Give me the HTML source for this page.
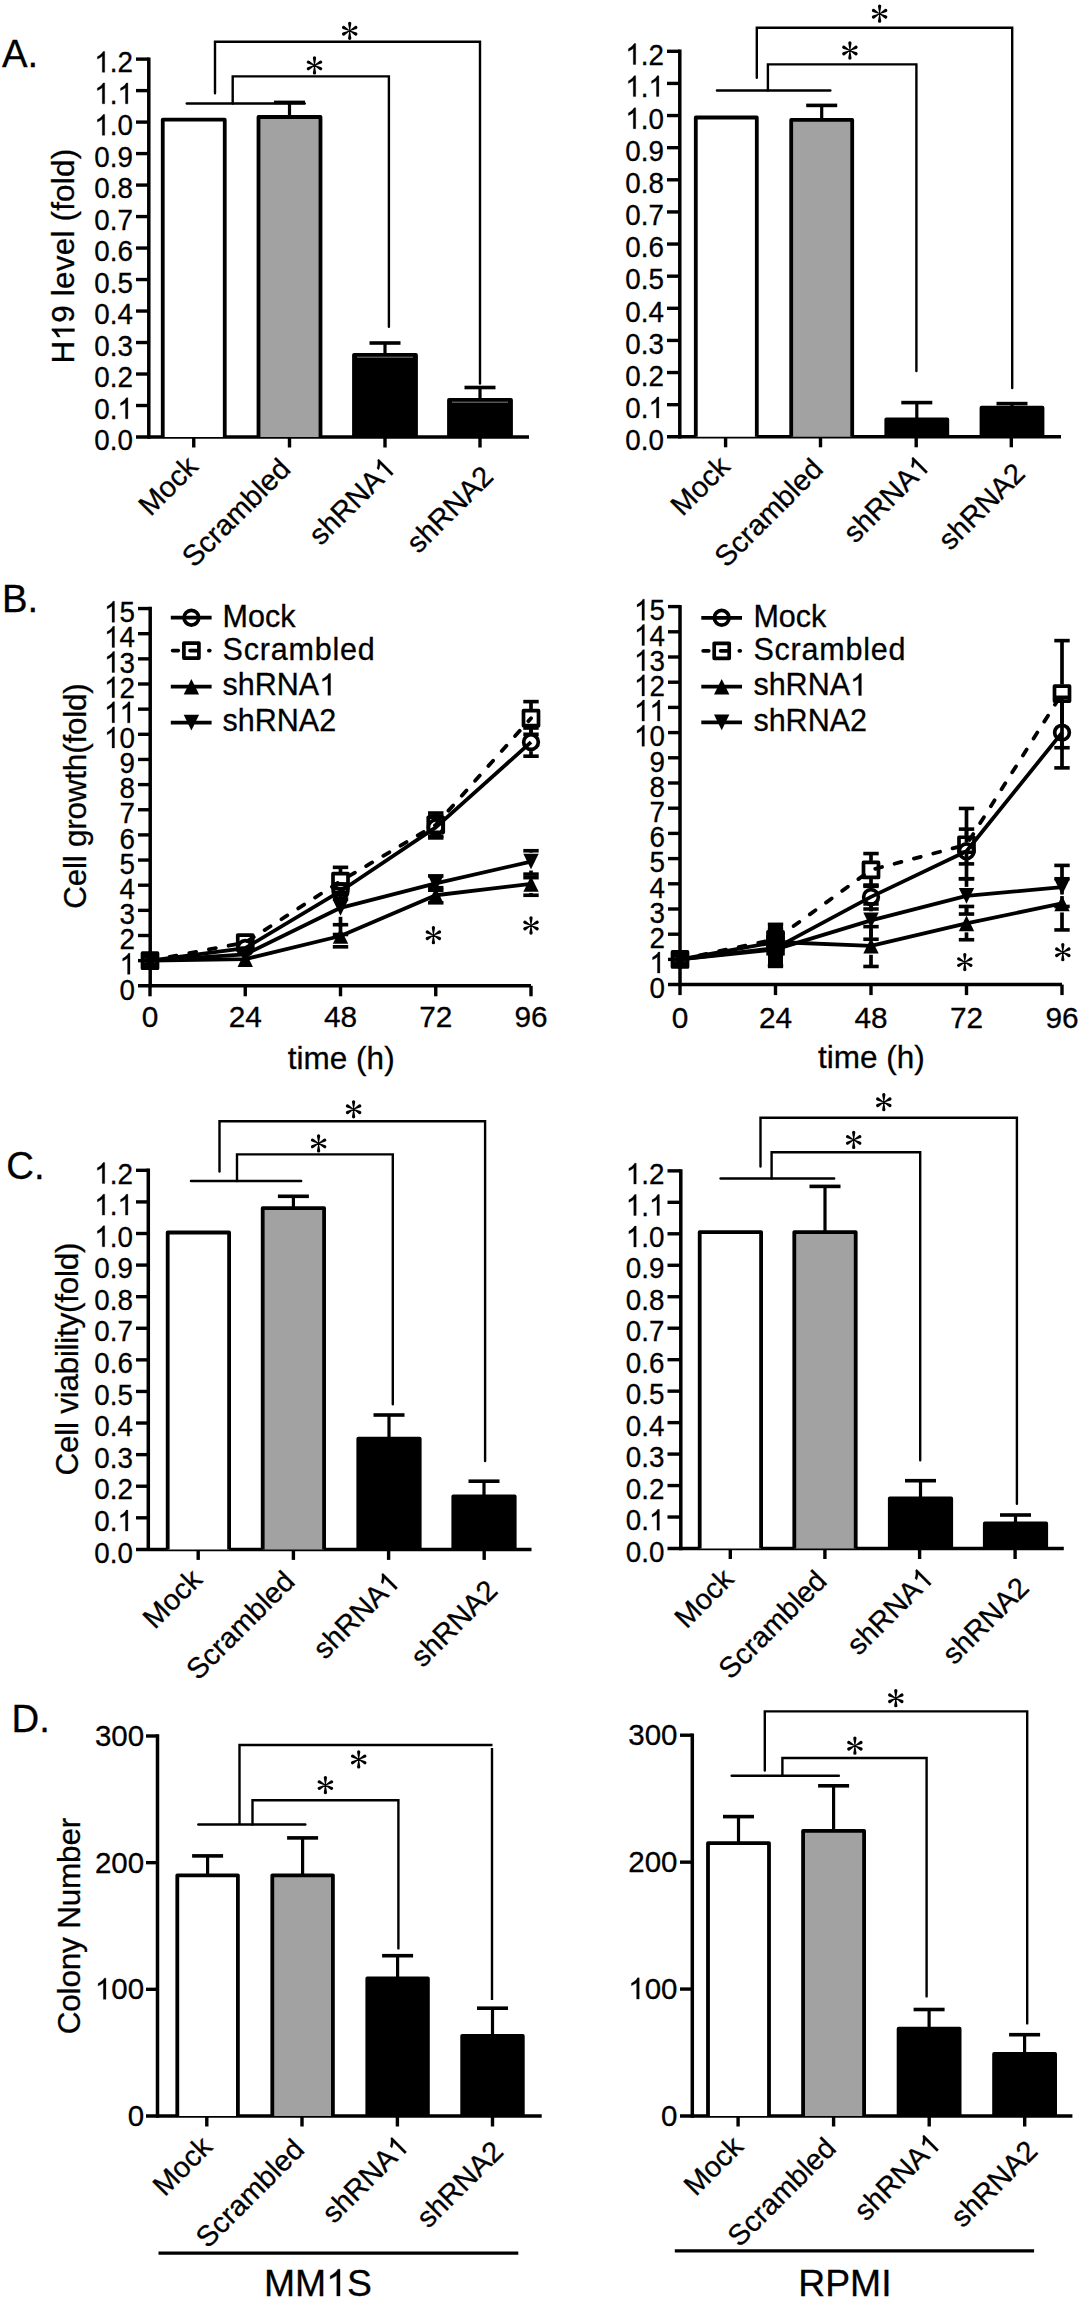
<!DOCTYPE html>
<html><head><meta charset="utf-8"><style>html,body{margin:0;padding:0;background:#fff;}svg{display:block;font-family:"Liberation Sans",sans-serif;}text{stroke:#000;stroke-width:0.3px;}.o{fill:none;stroke:none;}</style></head><body>
<svg width="1078" height="2300" viewBox="0 0 1078 2300" font-family="Liberation Sans" fill="#000">
<rect width="1078" height="2300" fill="#fff"/>
<text x="2" y="66.7" font-size="38.3" text-anchor="start" >A.</text>
<text x="2" y="611.7" font-size="38.3" text-anchor="start" >B.</text>
<text x="6.3" y="1179" font-size="38.3" text-anchor="start" >C.</text>
<text x="11.6" y="1731.6" font-size="38.3" text-anchor="start" >D.</text>
<line x1="148.8" y1="57.4" x2="148.8" y2="438.7" stroke="#000" stroke-width="3.5" stroke-linecap="butt" />
<line x1="136" y1="437" x2="529" y2="437" stroke="#000" stroke-width="3.5" stroke-linecap="butt" />
<text transform="translate(133 450.2) scale(0.955 1)" font-size="29.1" text-anchor="end">0.0</text>
<line x1="136" y1="405.51" x2="148.8" y2="405.51" stroke="#000" stroke-width="3.4" stroke-linecap="butt" />
<text transform="translate(133 418.71) scale(0.955 1)" font-size="29.1" text-anchor="end">0.<tspan class="o">1</tspan></text>
<line x1="136" y1="374.02" x2="148.8" y2="374.02" stroke="#000" stroke-width="3.4" stroke-linecap="butt" />
<text transform="translate(133 387.22) scale(0.955 1)" font-size="29.1" text-anchor="end">0.2</text>
<line x1="136" y1="342.53" x2="148.8" y2="342.53" stroke="#000" stroke-width="3.4" stroke-linecap="butt" />
<text transform="translate(133 355.73) scale(0.955 1)" font-size="29.1" text-anchor="end">0.3</text>
<line x1="136" y1="311.04" x2="148.8" y2="311.04" stroke="#000" stroke-width="3.4" stroke-linecap="butt" />
<text transform="translate(133 324.24) scale(0.955 1)" font-size="29.1" text-anchor="end">0.4</text>
<line x1="136" y1="279.55" x2="148.8" y2="279.55" stroke="#000" stroke-width="3.4" stroke-linecap="butt" />
<text transform="translate(133 292.75) scale(0.955 1)" font-size="29.1" text-anchor="end">0.5</text>
<line x1="136" y1="248.06" x2="148.8" y2="248.06" stroke="#000" stroke-width="3.4" stroke-linecap="butt" />
<text transform="translate(133 261.26) scale(0.955 1)" font-size="29.1" text-anchor="end">0.6</text>
<line x1="136" y1="216.57" x2="148.8" y2="216.57" stroke="#000" stroke-width="3.4" stroke-linecap="butt" />
<text transform="translate(133 229.77) scale(0.955 1)" font-size="29.1" text-anchor="end">0.7</text>
<line x1="136" y1="185.08" x2="148.8" y2="185.08" stroke="#000" stroke-width="3.4" stroke-linecap="butt" />
<text transform="translate(133 198.28) scale(0.955 1)" font-size="29.1" text-anchor="end">0.8</text>
<line x1="136" y1="153.59" x2="148.8" y2="153.59" stroke="#000" stroke-width="3.4" stroke-linecap="butt" />
<text transform="translate(133 166.79) scale(0.955 1)" font-size="29.1" text-anchor="end">0.9</text>
<line x1="136" y1="122.1" x2="148.8" y2="122.1" stroke="#000" stroke-width="3.4" stroke-linecap="butt" />
<text transform="translate(133 135.3) scale(0.955 1)" font-size="29.1" text-anchor="end"><tspan class="o">1</tspan>.0</text>
<line x1="136" y1="90.61" x2="148.8" y2="90.61" stroke="#000" stroke-width="3.4" stroke-linecap="butt" />
<text transform="translate(133 103.81) scale(0.955 1)" font-size="29.1" text-anchor="end"><tspan class="o">1</tspan>.<tspan class="o">1</tspan></text>
<line x1="136" y1="59.12" x2="148.8" y2="59.12" stroke="#000" stroke-width="3.4" stroke-linecap="butt" />
<text transform="translate(133 72.32) scale(0.955 1)" font-size="29.1" text-anchor="end"><tspan class="o">1</tspan>.2</text>
<line x1="193.75" y1="437" x2="193.75" y2="447.5" stroke="#000" stroke-width="3.4" stroke-linecap="butt" />
<line x1="289.5" y1="437" x2="289.5" y2="447.5" stroke="#000" stroke-width="3.4" stroke-linecap="butt" />
<line x1="385" y1="437" x2="385" y2="447.5" stroke="#000" stroke-width="3.4" stroke-linecap="butt" />
<line x1="480" y1="437" x2="480" y2="447.5" stroke="#000" stroke-width="3.4" stroke-linecap="butt" />
<path d="M162.75,437 L162.75,119.7 L224.75,119.7 L224.75,437" fill="#fff" stroke="#000" stroke-width="3.8" stroke-linejoin="round"/>
<path d="M258.5,437 L258.5,117 L320.5,117 L320.5,437" fill="#a2a2a2" stroke="#000" stroke-width="3.8" stroke-linejoin="round"/>
<path d="M354,437 L354,355 L416,355 L416,437" fill="#000" stroke="#000" stroke-width="3.8" stroke-linejoin="round"/>
<line x1="357" y1="357.2" x2="413" y2="357.2" stroke="#8a8a8a" stroke-width="0.9"/>
<path d="M449,437 L449,400 L511,400 L511,437" fill="#000" stroke="#000" stroke-width="3.8" stroke-linejoin="round"/>
<line x1="452" y1="402.2" x2="508" y2="402.2" stroke="#8a8a8a" stroke-width="0.9"/>
<line x1="289.5" y1="117" x2="289.5" y2="102.4" stroke="#000" stroke-width="3.2" stroke-linecap="butt" />
<line x1="274" y1="102.4" x2="305" y2="102.4" stroke="#000" stroke-width="3.6" stroke-linecap="butt" />
<line x1="385" y1="355" x2="385" y2="343" stroke="#000" stroke-width="3.2" stroke-linecap="butt" />
<line x1="369.5" y1="343" x2="400.5" y2="343" stroke="#000" stroke-width="3.6" stroke-linecap="butt" />
<line x1="480" y1="400" x2="480" y2="387.5" stroke="#000" stroke-width="3.2" stroke-linecap="butt" />
<line x1="464.5" y1="387.5" x2="495.5" y2="387.5" stroke="#000" stroke-width="3.6" stroke-linecap="butt" />
<line x1="186.8" y1="103.5" x2="304.7" y2="103.5" stroke="#000" stroke-width="2.5" stroke-linecap="round" />
<polyline points="232.7,103.5 232.7,76.4 388.9,76.4 388.9,326.7" fill="none" stroke="#000" stroke-width="2.4" stroke-linecap="round" stroke-linejoin="miter"/>
<polyline points="215,93.3 215,41.8 480,41.8 480,383.5" fill="none" stroke="#000" stroke-width="2.4" stroke-linecap="round" stroke-linejoin="miter"/>
<path d="M350.05,30.8 L351.35,23.3 A1.65,1.65 0 1 0 348.05,23.3 L349.35,30.8 Z M349.86,31.11 L356.57,29.02 A1.65,1.65 0 1 0 355.02,26.1 L349.54,30.49 Z M349.54,31.11 L355.02,35.5 A1.65,1.65 0 1 0 356.57,32.58 L349.86,30.49 Z M349.35,30.8 L348.05,38.3 A1.65,1.65 0 1 0 351.35,38.3 L350.05,30.8 Z M349.54,30.49 L342.83,32.58 A1.65,1.65 0 1 0 344.38,35.5 L349.86,31.11 Z M349.86,30.49 L344.38,26.1 A1.65,1.65 0 1 0 342.83,29.02 L349.54,31.11 Z" fill="#000"/>
<path d="M314.85,65.4 L316.15,57.9 A1.65,1.65 0 1 0 312.85,57.9 L314.15,65.4 Z M314.66,65.71 L321.37,63.62 A1.65,1.65 0 1 0 319.82,60.7 L314.34,65.09 Z M314.34,65.71 L319.82,70.1 A1.65,1.65 0 1 0 321.37,67.18 L314.66,65.09 Z M314.15,65.4 L312.85,72.9 A1.65,1.65 0 1 0 316.15,72.9 L314.85,65.4 Z M314.34,65.09 L307.63,67.18 A1.65,1.65 0 1 0 309.18,70.1 L314.66,65.71 Z M314.66,65.09 L309.18,60.7 A1.65,1.65 0 1 0 307.63,63.62 L314.34,65.71 Z" fill="#000"/>
<text x="199.5" y="468.3" font-size="29.0" text-anchor="end" transform="rotate(-45 199.5 468.3)" >Mock</text>
<text x="292.1" y="470.6" font-size="29.0" text-anchor="end" transform="rotate(-45 292.1 470.6)" >Scrambled</text>
<text x="397.2" y="470" font-size="29.0" text-anchor="end" transform="rotate(-45 397.2 470)" >shRNA<tspan class="o">1</tspan></text>
<text x="494.8" y="478.1" font-size="29.0" text-anchor="end" transform="rotate(-45 494.8 478.1)" >shRNA2</text>
<text x="74.5" y="256.1" font-size="31.5" text-anchor="middle" transform="rotate(-90 74.5 256.1)" textLength="214.6" lengthAdjust="spacing" >H<tspan class="o">1</tspan>9 level (fold)</text>
<line x1="679.8" y1="49.6" x2="679.8" y2="438.5" stroke="#000" stroke-width="3.5" stroke-linecap="butt" />
<line x1="667" y1="436.8" x2="1061" y2="436.8" stroke="#000" stroke-width="3.5" stroke-linecap="butt" />
<text transform="translate(664 450) scale(0.955 1)" font-size="29.1" text-anchor="end">0.0</text>
<line x1="667" y1="404.68" x2="679.8" y2="404.68" stroke="#000" stroke-width="3.4" stroke-linecap="butt" />
<text transform="translate(664 417.88) scale(0.955 1)" font-size="29.1" text-anchor="end">0.<tspan class="o">1</tspan></text>
<line x1="667" y1="372.55" x2="679.8" y2="372.55" stroke="#000" stroke-width="3.4" stroke-linecap="butt" />
<text transform="translate(664 385.75) scale(0.955 1)" font-size="29.1" text-anchor="end">0.2</text>
<line x1="667" y1="340.43" x2="679.8" y2="340.43" stroke="#000" stroke-width="3.4" stroke-linecap="butt" />
<text transform="translate(664 353.62) scale(0.955 1)" font-size="29.1" text-anchor="end">0.3</text>
<line x1="667" y1="308.3" x2="679.8" y2="308.3" stroke="#000" stroke-width="3.4" stroke-linecap="butt" />
<text transform="translate(664 321.5) scale(0.955 1)" font-size="29.1" text-anchor="end">0.4</text>
<line x1="667" y1="276.18" x2="679.8" y2="276.18" stroke="#000" stroke-width="3.4" stroke-linecap="butt" />
<text transform="translate(664 289.38) scale(0.955 1)" font-size="29.1" text-anchor="end">0.5</text>
<line x1="667" y1="244.05" x2="679.8" y2="244.05" stroke="#000" stroke-width="3.4" stroke-linecap="butt" />
<text transform="translate(664 257.25) scale(0.955 1)" font-size="29.1" text-anchor="end">0.6</text>
<line x1="667" y1="211.93" x2="679.8" y2="211.93" stroke="#000" stroke-width="3.4" stroke-linecap="butt" />
<text transform="translate(664 225.13) scale(0.955 1)" font-size="29.1" text-anchor="end">0.7</text>
<line x1="667" y1="179.8" x2="679.8" y2="179.8" stroke="#000" stroke-width="3.4" stroke-linecap="butt" />
<text transform="translate(664 193) scale(0.955 1)" font-size="29.1" text-anchor="end">0.8</text>
<line x1="667" y1="147.68" x2="679.8" y2="147.68" stroke="#000" stroke-width="3.4" stroke-linecap="butt" />
<text transform="translate(664 160.88) scale(0.955 1)" font-size="29.1" text-anchor="end">0.9</text>
<line x1="667" y1="115.55" x2="679.8" y2="115.55" stroke="#000" stroke-width="3.4" stroke-linecap="butt" />
<text transform="translate(664 128.75) scale(0.955 1)" font-size="29.1" text-anchor="end"><tspan class="o">1</tspan>.0</text>
<line x1="667" y1="83.42" x2="679.8" y2="83.42" stroke="#000" stroke-width="3.4" stroke-linecap="butt" />
<text transform="translate(664 96.62) scale(0.955 1)" font-size="29.1" text-anchor="end"><tspan class="o">1</tspan>.<tspan class="o">1</tspan></text>
<line x1="667" y1="51.3" x2="679.8" y2="51.3" stroke="#000" stroke-width="3.4" stroke-linecap="butt" />
<text transform="translate(664 64.5) scale(0.955 1)" font-size="29.1" text-anchor="end"><tspan class="o">1</tspan>.2</text>
<line x1="725.6" y1="436.8" x2="725.6" y2="447.3" stroke="#000" stroke-width="3.4" stroke-linecap="butt" />
<line x1="820.5" y1="436.8" x2="820.5" y2="447.3" stroke="#000" stroke-width="3.4" stroke-linecap="butt" />
<line x1="916.2" y1="436.8" x2="916.2" y2="447.3" stroke="#000" stroke-width="3.4" stroke-linecap="butt" />
<line x1="1011.3" y1="436.8" x2="1011.3" y2="447.3" stroke="#000" stroke-width="3.4" stroke-linecap="butt" />
<path d="M695.8,436.8 L695.8,117.5 L756.8,117.5 L756.8,436.8" fill="#fff" stroke="#000" stroke-width="3.8" stroke-linejoin="round"/>
<path d="M791.2,436.8 L791.2,119.9 L852.2,119.9 L852.2,436.8" fill="#a2a2a2" stroke="#000" stroke-width="3.8" stroke-linejoin="round"/>
<path d="M886.3,436.8 L886.3,419.3 L947.3,419.3 L947.3,436.8" fill="#000" stroke="#000" stroke-width="3.8" stroke-linejoin="round"/>
<path d="M981.5,436.8 L981.5,407.7 L1042.5,407.7 L1042.5,436.8" fill="#000" stroke="#000" stroke-width="3.8" stroke-linejoin="round"/>
<line x1="821.7" y1="119.9" x2="821.7" y2="105.4" stroke="#000" stroke-width="3.2" stroke-linecap="butt" />
<line x1="806.2" y1="105.4" x2="837.2" y2="105.4" stroke="#000" stroke-width="3.6" stroke-linecap="butt" />
<line x1="916.8" y1="419.3" x2="916.8" y2="402.6" stroke="#000" stroke-width="3.2" stroke-linecap="butt" />
<line x1="901.3" y1="402.6" x2="932.3" y2="402.6" stroke="#000" stroke-width="3.6" stroke-linecap="butt" />
<line x1="1012" y1="407.7" x2="1012" y2="403.6" stroke="#000" stroke-width="3.2" stroke-linecap="butt" />
<line x1="996.5" y1="403.6" x2="1027.5" y2="403.6" stroke="#000" stroke-width="3.6" stroke-linecap="butt" />
<line x1="717" y1="90.4" x2="830.3" y2="90.4" stroke="#000" stroke-width="2.5" stroke-linecap="round" />
<polyline points="767.9,90.4 767.9,64.4 916.4,64.4 916.4,371" fill="none" stroke="#000" stroke-width="2.4" stroke-linecap="round" stroke-linejoin="miter"/>
<polyline points="756.8,77.7 756.8,27.8 1012.2,27.8 1012.2,388" fill="none" stroke="#000" stroke-width="2.4" stroke-linecap="round" stroke-linejoin="miter"/>
<path d="M879.95,13.7 L881.25,6.2 A1.65,1.65 0 1 0 877.95,6.2 L879.25,13.7 Z M879.76,14.01 L886.47,11.92 A1.65,1.65 0 1 0 884.92,9 L879.44,13.39 Z M879.44,14.01 L884.92,18.4 A1.65,1.65 0 1 0 886.47,15.48 L879.76,13.39 Z M879.25,13.7 L877.95,21.2 A1.65,1.65 0 1 0 881.25,21.2 L879.95,13.7 Z M879.44,13.39 L872.73,15.48 A1.65,1.65 0 1 0 874.28,18.4 L879.76,14.01 Z M879.76,13.39 L874.28,9 A1.65,1.65 0 1 0 872.73,11.92 L879.44,14.01 Z" fill="#000"/>
<path d="M850.25,50.5 L851.55,43 A1.65,1.65 0 1 0 848.25,43 L849.55,50.5 Z M850.06,50.81 L856.77,48.72 A1.65,1.65 0 1 0 855.22,45.8 L849.74,50.19 Z M849.74,50.81 L855.22,55.2 A1.65,1.65 0 1 0 856.77,52.28 L850.06,50.19 Z M849.55,50.5 L848.25,58 A1.65,1.65 0 1 0 851.55,58 L850.25,50.5 Z M849.74,50.19 L843.03,52.28 A1.65,1.65 0 1 0 844.58,55.2 L850.06,50.81 Z M850.06,50.19 L844.58,45.8 A1.65,1.65 0 1 0 843.03,48.72 L849.74,50.81 Z" fill="#000"/>
<text x="731.6" y="468.3" font-size="29.0" text-anchor="end" transform="rotate(-45 731.6 468.3)" >Mock</text>
<text x="824.6" y="470.6" font-size="29.0" text-anchor="end" transform="rotate(-45 824.6 470.6)" >Scrambled</text>
<text x="931.5" y="468" font-size="29.0" text-anchor="end" transform="rotate(-45 931.5 468)" >shRNA<tspan class="o">1</tspan></text>
<text x="1026.7" y="475.1" font-size="29.0" text-anchor="end" transform="rotate(-45 1026.7 475.1)" >shRNA2</text>
<line x1="148.3" y1="1168.6" x2="148.3" y2="1551.1" stroke="#000" stroke-width="3.5" stroke-linecap="butt" />
<line x1="136" y1="1549.4" x2="531.5" y2="1549.4" stroke="#000" stroke-width="3.5" stroke-linecap="butt" />
<text transform="translate(133 1562.6) scale(0.955 1)" font-size="29.1" text-anchor="end">0.0</text>
<line x1="136" y1="1517.81" x2="148.3" y2="1517.81" stroke="#000" stroke-width="3.4" stroke-linecap="butt" />
<text transform="translate(133 1531.01) scale(0.955 1)" font-size="29.1" text-anchor="end">0.<tspan class="o">1</tspan></text>
<line x1="136" y1="1486.22" x2="148.3" y2="1486.22" stroke="#000" stroke-width="3.4" stroke-linecap="butt" />
<text transform="translate(133 1499.42) scale(0.955 1)" font-size="29.1" text-anchor="end">0.2</text>
<line x1="136" y1="1454.63" x2="148.3" y2="1454.63" stroke="#000" stroke-width="3.4" stroke-linecap="butt" />
<text transform="translate(133 1467.83) scale(0.955 1)" font-size="29.1" text-anchor="end">0.3</text>
<line x1="136" y1="1423.04" x2="148.3" y2="1423.04" stroke="#000" stroke-width="3.4" stroke-linecap="butt" />
<text transform="translate(133 1436.24) scale(0.955 1)" font-size="29.1" text-anchor="end">0.4</text>
<line x1="136" y1="1391.45" x2="148.3" y2="1391.45" stroke="#000" stroke-width="3.4" stroke-linecap="butt" />
<text transform="translate(133 1404.65) scale(0.955 1)" font-size="29.1" text-anchor="end">0.5</text>
<line x1="136" y1="1359.86" x2="148.3" y2="1359.86" stroke="#000" stroke-width="3.4" stroke-linecap="butt" />
<text transform="translate(133 1373.06) scale(0.955 1)" font-size="29.1" text-anchor="end">0.6</text>
<line x1="136" y1="1328.27" x2="148.3" y2="1328.27" stroke="#000" stroke-width="3.4" stroke-linecap="butt" />
<text transform="translate(133 1341.47) scale(0.955 1)" font-size="29.1" text-anchor="end">0.7</text>
<line x1="136" y1="1296.68" x2="148.3" y2="1296.68" stroke="#000" stroke-width="3.4" stroke-linecap="butt" />
<text transform="translate(133 1309.88) scale(0.955 1)" font-size="29.1" text-anchor="end">0.8</text>
<line x1="136" y1="1265.09" x2="148.3" y2="1265.09" stroke="#000" stroke-width="3.4" stroke-linecap="butt" />
<text transform="translate(133 1278.29) scale(0.955 1)" font-size="29.1" text-anchor="end">0.9</text>
<line x1="136" y1="1233.5" x2="148.3" y2="1233.5" stroke="#000" stroke-width="3.4" stroke-linecap="butt" />
<text transform="translate(133 1246.7) scale(0.955 1)" font-size="29.1" text-anchor="end"><tspan class="o">1</tspan>.0</text>
<line x1="136" y1="1201.91" x2="148.3" y2="1201.91" stroke="#000" stroke-width="3.4" stroke-linecap="butt" />
<text transform="translate(133 1215.11) scale(0.955 1)" font-size="29.1" text-anchor="end"><tspan class="o">1</tspan>.<tspan class="o">1</tspan></text>
<line x1="136" y1="1170.32" x2="148.3" y2="1170.32" stroke="#000" stroke-width="3.4" stroke-linecap="butt" />
<text transform="translate(133 1183.52) scale(0.955 1)" font-size="29.1" text-anchor="end"><tspan class="o">1</tspan>.2</text>
<line x1="198.2" y1="1549.4" x2="198.2" y2="1559.9" stroke="#000" stroke-width="3.4" stroke-linecap="butt" />
<line x1="293.4" y1="1549.4" x2="293.4" y2="1559.9" stroke="#000" stroke-width="3.4" stroke-linecap="butt" />
<line x1="388.6" y1="1549.4" x2="388.6" y2="1559.9" stroke="#000" stroke-width="3.4" stroke-linecap="butt" />
<line x1="484.2" y1="1549.4" x2="484.2" y2="1559.9" stroke="#000" stroke-width="3.4" stroke-linecap="butt" />
<path d="M167.7,1549.4 L167.7,1232.5 L229.1,1232.5 L229.1,1549.4" fill="#fff" stroke="#000" stroke-width="3.8" stroke-linejoin="round"/>
<path d="M262.7,1549.4 L262.7,1208.1 L324.1,1208.1 L324.1,1549.4" fill="#a2a2a2" stroke="#000" stroke-width="3.8" stroke-linejoin="round"/>
<path d="M358.3,1549.4 L358.3,1438.7 L419.7,1438.7 L419.7,1549.4" fill="#000" stroke="#000" stroke-width="3.8" stroke-linejoin="round"/>
<path d="M453.3,1549.4 L453.3,1496.3 L514.7,1496.3 L514.7,1549.4" fill="#000" stroke="#000" stroke-width="3.8" stroke-linejoin="round"/>
<line x1="293.4" y1="1208.1" x2="293.4" y2="1196.3" stroke="#000" stroke-width="3.2" stroke-linecap="butt" />
<line x1="277.9" y1="1196.3" x2="308.9" y2="1196.3" stroke="#000" stroke-width="3.6" stroke-linecap="butt" />
<line x1="389" y1="1438.7" x2="389" y2="1415" stroke="#000" stroke-width="3.2" stroke-linecap="butt" />
<line x1="373.5" y1="1415" x2="404.5" y2="1415" stroke="#000" stroke-width="3.6" stroke-linecap="butt" />
<line x1="484" y1="1496.3" x2="484" y2="1481.2" stroke="#000" stroke-width="3.2" stroke-linecap="butt" />
<line x1="468.5" y1="1481.2" x2="499.5" y2="1481.2" stroke="#000" stroke-width="3.6" stroke-linecap="butt" />
<line x1="191" y1="1181.1" x2="301.1" y2="1181.1" stroke="#000" stroke-width="2.5" stroke-linecap="round" />
<polyline points="237,1181.1 237,1154.4 392.8,1154.4 392.8,1404.3" fill="none" stroke="#000" stroke-width="2.4" stroke-linecap="round" stroke-linejoin="miter"/>
<polyline points="219.5,1171.6 219.5,1121.2 485.1,1121.2 485.1,1461.1" fill="none" stroke="#000" stroke-width="2.4" stroke-linecap="round" stroke-linejoin="miter"/>
<path d="M353.95,1109.3 L355.25,1101.8 A1.65,1.65 0 1 0 351.95,1101.8 L353.25,1109.3 Z M353.76,1109.61 L360.47,1107.52 A1.65,1.65 0 1 0 358.92,1104.6 L353.44,1108.99 Z M353.44,1109.61 L358.92,1114 A1.65,1.65 0 1 0 360.47,1111.08 L353.76,1108.99 Z M353.25,1109.3 L351.95,1116.8 A1.65,1.65 0 1 0 355.25,1116.8 L353.95,1109.3 Z M353.44,1108.99 L346.73,1111.08 A1.65,1.65 0 1 0 348.28,1114 L353.76,1109.61 Z M353.76,1108.99 L348.28,1104.6 A1.65,1.65 0 1 0 346.73,1107.52 L353.44,1109.61 Z" fill="#000"/>
<path d="M318.95,1143.4 L320.25,1135.9 A1.65,1.65 0 1 0 316.95,1135.9 L318.25,1143.4 Z M318.76,1143.71 L325.47,1141.62 A1.65,1.65 0 1 0 323.92,1138.7 L318.44,1143.09 Z M318.44,1143.71 L323.92,1148.1 A1.65,1.65 0 1 0 325.47,1145.18 L318.76,1143.09 Z M318.25,1143.4 L316.95,1150.9 A1.65,1.65 0 1 0 320.25,1150.9 L318.95,1143.4 Z M318.44,1143.09 L311.73,1145.18 A1.65,1.65 0 1 0 313.28,1148.1 L318.76,1143.71 Z M318.76,1143.09 L313.28,1138.7 A1.65,1.65 0 1 0 311.73,1141.62 L318.44,1143.71 Z" fill="#000"/>
<text x="203.8" y="1581.2" font-size="29.0" text-anchor="end" transform="rotate(-45 203.8 1581.2)" >Mock</text>
<text x="296.4" y="1583.2" font-size="29.0" text-anchor="end" transform="rotate(-45 296.4 1583.2)" >Scrambled</text>
<text x="401.4" y="1584.1" font-size="29.0" text-anchor="end" transform="rotate(-45 401.4 1584.1)" >shRNA<tspan class="o">1</tspan></text>
<text x="499.1" y="1592.2" font-size="29.0" text-anchor="end" transform="rotate(-45 499.1 1592.2)" >shRNA2</text>
<text x="78" y="1359" font-size="31.5" text-anchor="middle" transform="rotate(-90 78 1359)" textLength="232.9" lengthAdjust="spacing" >Cell viability(fold)</text>
<line x1="680.8" y1="1169.2" x2="680.8" y2="1550.2" stroke="#000" stroke-width="3.5" stroke-linecap="butt" />
<line x1="667.5" y1="1548.5" x2="1063.8" y2="1548.5" stroke="#000" stroke-width="3.5" stroke-linecap="butt" />
<text transform="translate(664.5 1561.7) scale(0.955 1)" font-size="29.1" text-anchor="end">0.0</text>
<line x1="667.5" y1="1517.03" x2="680.8" y2="1517.03" stroke="#000" stroke-width="3.4" stroke-linecap="butt" />
<text transform="translate(664.5 1530.23) scale(0.955 1)" font-size="29.1" text-anchor="end">0.<tspan class="o">1</tspan></text>
<line x1="667.5" y1="1485.56" x2="680.8" y2="1485.56" stroke="#000" stroke-width="3.4" stroke-linecap="butt" />
<text transform="translate(664.5 1498.76) scale(0.955 1)" font-size="29.1" text-anchor="end">0.2</text>
<line x1="667.5" y1="1454.09" x2="680.8" y2="1454.09" stroke="#000" stroke-width="3.4" stroke-linecap="butt" />
<text transform="translate(664.5 1467.29) scale(0.955 1)" font-size="29.1" text-anchor="end">0.3</text>
<line x1="667.5" y1="1422.62" x2="680.8" y2="1422.62" stroke="#000" stroke-width="3.4" stroke-linecap="butt" />
<text transform="translate(664.5 1435.82) scale(0.955 1)" font-size="29.1" text-anchor="end">0.4</text>
<line x1="667.5" y1="1391.15" x2="680.8" y2="1391.15" stroke="#000" stroke-width="3.4" stroke-linecap="butt" />
<text transform="translate(664.5 1404.35) scale(0.955 1)" font-size="29.1" text-anchor="end">0.5</text>
<line x1="667.5" y1="1359.68" x2="680.8" y2="1359.68" stroke="#000" stroke-width="3.4" stroke-linecap="butt" />
<text transform="translate(664.5 1372.88) scale(0.955 1)" font-size="29.1" text-anchor="end">0.6</text>
<line x1="667.5" y1="1328.21" x2="680.8" y2="1328.21" stroke="#000" stroke-width="3.4" stroke-linecap="butt" />
<text transform="translate(664.5 1341.41) scale(0.955 1)" font-size="29.1" text-anchor="end">0.7</text>
<line x1="667.5" y1="1296.74" x2="680.8" y2="1296.74" stroke="#000" stroke-width="3.4" stroke-linecap="butt" />
<text transform="translate(664.5 1309.94) scale(0.955 1)" font-size="29.1" text-anchor="end">0.8</text>
<line x1="667.5" y1="1265.27" x2="680.8" y2="1265.27" stroke="#000" stroke-width="3.4" stroke-linecap="butt" />
<text transform="translate(664.5 1278.47) scale(0.955 1)" font-size="29.1" text-anchor="end">0.9</text>
<line x1="667.5" y1="1233.8" x2="680.8" y2="1233.8" stroke="#000" stroke-width="3.4" stroke-linecap="butt" />
<text transform="translate(664.5 1247) scale(0.955 1)" font-size="29.1" text-anchor="end"><tspan class="o">1</tspan>.0</text>
<line x1="667.5" y1="1202.33" x2="680.8" y2="1202.33" stroke="#000" stroke-width="3.4" stroke-linecap="butt" />
<text transform="translate(664.5 1215.53) scale(0.955 1)" font-size="29.1" text-anchor="end"><tspan class="o">1</tspan>.<tspan class="o">1</tspan></text>
<line x1="667.5" y1="1170.86" x2="680.8" y2="1170.86" stroke="#000" stroke-width="3.4" stroke-linecap="butt" />
<text transform="translate(664.5 1184.06) scale(0.955 1)" font-size="29.1" text-anchor="end"><tspan class="o">1</tspan>.2</text>
<line x1="730.3" y1="1548.5" x2="730.3" y2="1559" stroke="#000" stroke-width="3.4" stroke-linecap="butt" />
<line x1="824.9" y1="1548.5" x2="824.9" y2="1559" stroke="#000" stroke-width="3.4" stroke-linecap="butt" />
<line x1="919.6" y1="1548.5" x2="919.6" y2="1559" stroke="#000" stroke-width="3.4" stroke-linecap="butt" />
<line x1="1015.1" y1="1548.5" x2="1015.1" y2="1559" stroke="#000" stroke-width="3.4" stroke-linecap="butt" />
<path d="M699.7,1548.5 L699.7,1232.1 L761.1,1232.1 L761.1,1548.5" fill="#fff" stroke="#000" stroke-width="3.8" stroke-linejoin="round"/>
<path d="M794.3,1548.5 L794.3,1232.1 L855.7,1232.1 L855.7,1548.5" fill="#a2a2a2" stroke="#000" stroke-width="3.8" stroke-linejoin="round"/>
<path d="M889.8,1548.5 L889.8,1498.3 L951.2,1498.3 L951.2,1548.5" fill="#000" stroke="#000" stroke-width="3.8" stroke-linejoin="round"/>
<path d="M984.8,1548.5 L984.8,1523.5 L1046.2,1523.5 L1046.2,1548.5" fill="#000" stroke="#000" stroke-width="3.8" stroke-linejoin="round"/>
<line x1="825" y1="1232.1" x2="825" y2="1186.4" stroke="#000" stroke-width="3.2" stroke-linecap="butt" />
<line x1="809.5" y1="1186.4" x2="840.5" y2="1186.4" stroke="#000" stroke-width="3.6" stroke-linecap="butt" />
<line x1="920.5" y1="1498.3" x2="920.5" y2="1480.7" stroke="#000" stroke-width="3.2" stroke-linecap="butt" />
<line x1="905" y1="1480.7" x2="936" y2="1480.7" stroke="#000" stroke-width="3.6" stroke-linecap="butt" />
<line x1="1015.5" y1="1523.5" x2="1015.5" y2="1515" stroke="#000" stroke-width="3.2" stroke-linecap="butt" />
<line x1="1000" y1="1515" x2="1031" y2="1515" stroke="#000" stroke-width="3.6" stroke-linecap="butt" />
<line x1="720.6" y1="1178.4" x2="834.1" y2="1178.4" stroke="#000" stroke-width="2.5" stroke-linecap="round" />
<polyline points="771.6,1178.4 771.6,1152.3 920.2,1152.3 920.2,1460.3" fill="none" stroke="#000" stroke-width="2.4" stroke-linecap="round" stroke-linejoin="miter"/>
<polyline points="760.5,1166.5 760.5,1117.7 1016.9,1117.7 1016.9,1503.8" fill="none" stroke="#000" stroke-width="2.4" stroke-linecap="round" stroke-linejoin="miter"/>
<path d="M884.15,1102.2 L885.45,1094.7 A1.65,1.65 0 1 0 882.15,1094.7 L883.45,1102.2 Z M883.96,1102.51 L890.67,1100.42 A1.65,1.65 0 1 0 889.12,1097.5 L883.64,1101.89 Z M883.64,1102.51 L889.12,1106.9 A1.65,1.65 0 1 0 890.67,1103.98 L883.96,1101.89 Z M883.45,1102.2 L882.15,1109.7 A1.65,1.65 0 1 0 885.45,1109.7 L884.15,1102.2 Z M883.64,1101.89 L876.93,1103.98 A1.65,1.65 0 1 0 878.48,1106.9 L883.96,1102.51 Z M883.96,1101.89 L878.48,1097.5 A1.65,1.65 0 1 0 876.93,1100.42 L883.64,1102.51 Z" fill="#000"/>
<path d="M854.05,1139.9 L855.35,1132.4 A1.65,1.65 0 1 0 852.05,1132.4 L853.35,1139.9 Z M853.86,1140.21 L860.57,1138.12 A1.65,1.65 0 1 0 859.02,1135.2 L853.54,1139.59 Z M853.54,1140.21 L859.02,1144.6 A1.65,1.65 0 1 0 860.57,1141.68 L853.86,1139.59 Z M853.35,1139.9 L852.05,1147.4 A1.65,1.65 0 1 0 855.35,1147.4 L854.05,1139.9 Z M853.54,1139.59 L846.83,1141.68 A1.65,1.65 0 1 0 848.38,1144.6 L853.86,1140.21 Z M853.86,1139.59 L848.38,1135.2 A1.65,1.65 0 1 0 846.83,1138.12 L853.54,1140.21 Z" fill="#000"/>
<text x="735.4" y="1580.7" font-size="29.0" text-anchor="end" transform="rotate(-45 735.4 1580.7)" >Mock</text>
<text x="828.5" y="1582.5" font-size="29.0" text-anchor="end" transform="rotate(-45 828.5 1582.5)" >Scrambled</text>
<text x="935.2" y="1580.2" font-size="29.0" text-anchor="end" transform="rotate(-45 935.2 1580.2)" >shRNA<tspan class="o">1</tspan></text>
<text x="1030.6" y="1589.4" font-size="29.0" text-anchor="end" transform="rotate(-45 1030.6 1589.4)" >shRNA2</text>
<line x1="157.5" y1="1734.3" x2="157.5" y2="2117.7" stroke="#000" stroke-width="3.5" stroke-linecap="butt" />
<line x1="146" y1="2116" x2="541.7" y2="2116" stroke="#000" stroke-width="3.5" stroke-linecap="butt" />
<text transform="translate(144.2 2126) scale(1.0 1)" font-size="29.5" text-anchor="end">0</text>
<line x1="146" y1="1989.33" x2="157.5" y2="1989.33" stroke="#000" stroke-width="3.4" stroke-linecap="butt" />
<text transform="translate(144.2 1999.33) scale(1.0 1)" font-size="29.5" text-anchor="end"><tspan class="o">1</tspan>00</text>
<line x1="146" y1="1862.66" x2="157.5" y2="1862.66" stroke="#000" stroke-width="3.4" stroke-linecap="butt" />
<text transform="translate(144.2 1872.66) scale(1.0 1)" font-size="29.5" text-anchor="end">200</text>
<line x1="146" y1="1735.99" x2="157.5" y2="1735.99" stroke="#000" stroke-width="3.4" stroke-linecap="butt" />
<text transform="translate(144.2 1745.99) scale(1.0 1)" font-size="29.5" text-anchor="end">300</text>
<line x1="206.8" y1="2116" x2="206.8" y2="2126.5" stroke="#000" stroke-width="3.4" stroke-linecap="butt" />
<line x1="302" y1="2116" x2="302" y2="2126.5" stroke="#000" stroke-width="3.4" stroke-linecap="butt" />
<line x1="397.4" y1="2116" x2="397.4" y2="2126.5" stroke="#000" stroke-width="3.4" stroke-linecap="butt" />
<line x1="492.5" y1="2116" x2="492.5" y2="2126.5" stroke="#000" stroke-width="3.4" stroke-linecap="butt" />
<path d="M177.3,2116 L177.3,1875.3 L237.9,1875.3 L237.9,2116" fill="#fff" stroke="#000" stroke-width="3.8" stroke-linejoin="round"/>
<path d="M272.3,2116 L272.3,1875.3 L332.9,1875.3 L332.9,2116" fill="#a2a2a2" stroke="#000" stroke-width="3.8" stroke-linejoin="round"/>
<path d="M367.3,2116 L367.3,1978.4 L427.9,1978.4 L427.9,2116" fill="#000" stroke="#000" stroke-width="3.8" stroke-linejoin="round"/>
<path d="M462.2,2116 L462.2,2035.8 L522.8,2035.8 L522.8,2116" fill="#000" stroke="#000" stroke-width="3.8" stroke-linejoin="round"/>
<line x1="207.6" y1="1875.3" x2="207.6" y2="1855.9" stroke="#000" stroke-width="3.2" stroke-linecap="butt" />
<line x1="192.1" y1="1855.9" x2="223.1" y2="1855.9" stroke="#000" stroke-width="3.6" stroke-linecap="butt" />
<line x1="302.6" y1="1875.3" x2="302.6" y2="1837.9" stroke="#000" stroke-width="3.2" stroke-linecap="butt" />
<line x1="287.1" y1="1837.9" x2="318.1" y2="1837.9" stroke="#000" stroke-width="3.6" stroke-linecap="butt" />
<line x1="397.6" y1="1978.4" x2="397.6" y2="1955.7" stroke="#000" stroke-width="3.2" stroke-linecap="butt" />
<line x1="382.1" y1="1955.7" x2="413.1" y2="1955.7" stroke="#000" stroke-width="3.6" stroke-linecap="butt" />
<line x1="492.5" y1="2035.8" x2="492.5" y2="2008.2" stroke="#000" stroke-width="3.2" stroke-linecap="butt" />
<line x1="477" y1="2008.2" x2="508" y2="2008.2" stroke="#000" stroke-width="3.6" stroke-linecap="butt" />
<line x1="198.4" y1="1824.5" x2="305.3" y2="1824.5" stroke="#000" stroke-width="2.5" stroke-linecap="round" />
<polyline points="252.5,1824.5 252.5,1800.2 398.4,1800.2 398.4,1948.4" fill="none" stroke="#000" stroke-width="2.4" stroke-linecap="round" stroke-linejoin="miter"/>
<polyline points="239.5,1824.5 239.5,1745 492.5,1745" fill="none" stroke="#000" stroke-width="2.4" stroke-linecap="butt" stroke-linejoin="miter"/>
<line x1="492" y1="1748" x2="492" y2="2000" stroke="#000" stroke-width="2.4" stroke-linecap="butt" />
<path d="M359.05,1759.4 L360.35,1751.9 A1.65,1.65 0 1 0 357.05,1751.9 L358.35,1759.4 Z M358.86,1759.71 L365.57,1757.62 A1.65,1.65 0 1 0 364.02,1754.7 L358.54,1759.09 Z M358.54,1759.71 L364.02,1764.1 A1.65,1.65 0 1 0 365.57,1761.18 L358.86,1759.09 Z M358.35,1759.4 L357.05,1766.9 A1.65,1.65 0 1 0 360.35,1766.9 L359.05,1759.4 Z M358.54,1759.09 L351.83,1761.18 A1.65,1.65 0 1 0 353.38,1764.1 L358.86,1759.71 Z M358.86,1759.09 L353.38,1754.7 A1.65,1.65 0 1 0 351.83,1757.62 L358.54,1759.71 Z" fill="#000"/>
<path d="M325.75,1785.1 L327.05,1777.6 A1.65,1.65 0 1 0 323.75,1777.6 L325.05,1785.1 Z M325.56,1785.41 L332.27,1783.32 A1.65,1.65 0 1 0 330.72,1780.4 L325.24,1784.79 Z M325.24,1785.41 L330.72,1789.8 A1.65,1.65 0 1 0 332.27,1786.88 L325.56,1784.79 Z M325.05,1785.1 L323.75,1792.6 A1.65,1.65 0 1 0 327.05,1792.6 L325.75,1785.1 Z M325.24,1784.79 L318.53,1786.88 A1.65,1.65 0 1 0 320.08,1789.8 L325.56,1785.41 Z M325.56,1784.79 L320.08,1780.4 A1.65,1.65 0 1 0 318.53,1783.32 L325.24,1785.41 Z" fill="#000"/>
<text x="213.7" y="2148.6" font-size="29.0" text-anchor="end" transform="rotate(-45 213.7 2148.6)" >Mock</text>
<text x="305.8" y="2151.2" font-size="29.0" text-anchor="end" transform="rotate(-45 305.8 2151.2)" >Scrambled</text>
<text x="410.4" y="2148.2" font-size="29.0" text-anchor="end" transform="rotate(-45 410.4 2148.2)" >shRNA<tspan class="o">1</tspan></text>
<text x="504.8" y="2153" font-size="29.0" text-anchor="end" transform="rotate(-45 504.8 2153)" >shRNA2</text>
<text x="79.5" y="1926" font-size="31.5" text-anchor="middle" transform="rotate(-90 79.5 1926)" textLength="216.6" lengthAdjust="spacing" >Colony Number</text>
<line x1="692.3" y1="1733.5" x2="692.3" y2="2117.7" stroke="#000" stroke-width="3.5" stroke-linecap="butt" />
<line x1="680" y1="2116" x2="1072.4" y2="2116" stroke="#000" stroke-width="3.5" stroke-linecap="butt" />
<text transform="translate(677.5 2126) scale(1.0 1)" font-size="29.5" text-anchor="end">0</text>
<line x1="680" y1="1989.07" x2="692.3" y2="1989.07" stroke="#000" stroke-width="3.4" stroke-linecap="butt" />
<text transform="translate(677.5 1999.07) scale(1.0 1)" font-size="29.5" text-anchor="end"><tspan class="o">1</tspan>00</text>
<line x1="680" y1="1862.14" x2="692.3" y2="1862.14" stroke="#000" stroke-width="3.4" stroke-linecap="butt" />
<text transform="translate(677.5 1872.14) scale(1.0 1)" font-size="29.5" text-anchor="end">200</text>
<line x1="680" y1="1735.21" x2="692.3" y2="1735.21" stroke="#000" stroke-width="3.4" stroke-linecap="butt" />
<text transform="translate(677.5 1745.21) scale(1.0 1)" font-size="29.5" text-anchor="end">300</text>
<line x1="738.1" y1="2116" x2="738.1" y2="2126.5" stroke="#000" stroke-width="3.4" stroke-linecap="butt" />
<line x1="833.6" y1="2116" x2="833.6" y2="2126.5" stroke="#000" stroke-width="3.4" stroke-linecap="butt" />
<line x1="929.2" y1="2116" x2="929.2" y2="2126.5" stroke="#000" stroke-width="3.4" stroke-linecap="butt" />
<line x1="1024.7" y1="2116" x2="1024.7" y2="2126.5" stroke="#000" stroke-width="3.4" stroke-linecap="butt" />
<path d="M708,2116 L708,1843.2 L769,1843.2 L769,2116" fill="#fff" stroke="#000" stroke-width="3.8" stroke-linejoin="round"/>
<path d="M803.1,2116 L803.1,1830.8 L864.1,1830.8 L864.1,2116" fill="#a2a2a2" stroke="#000" stroke-width="3.8" stroke-linejoin="round"/>
<path d="M898.6,2116 L898.6,2028.7 L959.6,2028.7 L959.6,2116" fill="#000" stroke="#000" stroke-width="3.8" stroke-linejoin="round"/>
<path d="M994.1,2116 L994.1,2053.9 L1055.1,2053.9 L1055.1,2116" fill="#000" stroke="#000" stroke-width="3.8" stroke-linejoin="round"/>
<line x1="738.5" y1="1843.2" x2="738.5" y2="1816.6" stroke="#000" stroke-width="3.2" stroke-linecap="butt" />
<line x1="723" y1="1816.6" x2="754" y2="1816.6" stroke="#000" stroke-width="3.6" stroke-linecap="butt" />
<line x1="833.6" y1="1830.8" x2="833.6" y2="1785.8" stroke="#000" stroke-width="3.2" stroke-linecap="butt" />
<line x1="818.1" y1="1785.8" x2="849.1" y2="1785.8" stroke="#000" stroke-width="3.6" stroke-linecap="butt" />
<line x1="929.1" y1="2028.7" x2="929.1" y2="2009.5" stroke="#000" stroke-width="3.2" stroke-linecap="butt" />
<line x1="913.6" y1="2009.5" x2="944.6" y2="2009.5" stroke="#000" stroke-width="3.6" stroke-linecap="butt" />
<line x1="1024.6" y1="2053.9" x2="1024.6" y2="2034.7" stroke="#000" stroke-width="3.2" stroke-linecap="butt" />
<line x1="1009.1" y1="2034.7" x2="1040.1" y2="2034.7" stroke="#000" stroke-width="3.6" stroke-linecap="butt" />
<line x1="731.7" y1="1775.8" x2="838.8" y2="1775.8" stroke="#000" stroke-width="2.5" stroke-linecap="round" />
<polyline points="782.4,1775.8 782.4,1758 926.6,1758 926.6,1996.4" fill="none" stroke="#000" stroke-width="2.4" stroke-linecap="round" stroke-linejoin="miter"/>
<polyline points="764.8,1770.5 764.8,1711.4 1027.2,1711.4 1027.2,2023.4" fill="none" stroke="#000" stroke-width="2.4" stroke-linecap="round" stroke-linejoin="miter"/>
<path d="M896.15,1698.2 L897.45,1690.7 A1.65,1.65 0 1 0 894.15,1690.7 L895.45,1698.2 Z M895.96,1698.51 L902.67,1696.42 A1.65,1.65 0 1 0 901.12,1693.5 L895.64,1697.89 Z M895.64,1698.51 L901.12,1702.9 A1.65,1.65 0 1 0 902.67,1699.98 L895.96,1697.89 Z M895.45,1698.2 L894.15,1705.7 A1.65,1.65 0 1 0 897.45,1705.7 L896.15,1698.2 Z M895.64,1697.89 L888.93,1699.98 A1.65,1.65 0 1 0 890.48,1702.9 L895.96,1698.51 Z M895.96,1697.89 L890.48,1693.5 A1.65,1.65 0 1 0 888.93,1696.42 L895.64,1698.51 Z" fill="#000"/>
<path d="M855.25,1745.7 L856.55,1738.2 A1.65,1.65 0 1 0 853.25,1738.2 L854.55,1745.7 Z M855.06,1746.01 L861.77,1743.92 A1.65,1.65 0 1 0 860.22,1741 L854.74,1745.39 Z M854.74,1746.01 L860.22,1750.4 A1.65,1.65 0 1 0 861.77,1747.48 L855.06,1745.39 Z M854.55,1745.7 L853.25,1753.2 A1.65,1.65 0 1 0 856.55,1753.2 L855.25,1745.7 Z M854.74,1745.39 L848.03,1747.48 A1.65,1.65 0 1 0 849.58,1750.4 L855.06,1746.01 Z M855.06,1745.39 L849.58,1741 A1.65,1.65 0 1 0 848.03,1743.92 L854.74,1746.01 Z" fill="#000"/>
<text x="744.8" y="2148.2" font-size="29.0" text-anchor="end" transform="rotate(-45 744.8 2148.2)" >Mock</text>
<text x="837.6" y="2149.9" font-size="29.0" text-anchor="end" transform="rotate(-45 837.6 2149.9)" >Scrambled</text>
<text x="942.4" y="2145.9" font-size="29.0" text-anchor="end" transform="rotate(-45 942.4 2145.9)" >shRNA<tspan class="o">1</tspan></text>
<text x="1039.1" y="2152.5" font-size="29.0" text-anchor="end" transform="rotate(-45 1039.1 2152.5)" >shRNA2</text>
<line x1="150.2" y1="606.85" x2="150.2" y2="987.5" stroke="#000" stroke-width="3.5" stroke-linecap="butt" />
<line x1="138" y1="985.8" x2="531" y2="985.8" stroke="#000" stroke-width="3.5" stroke-linecap="butt" />
<text transform="translate(135.1 999.5) scale(0.95 1)" font-size="29.3" text-anchor="end">0</text>
<line x1="138" y1="960.65" x2="150.2" y2="960.65" stroke="#000" stroke-width="3.4" stroke-linecap="butt" />
<text transform="translate(135.1 974.35) scale(0.95 1)" font-size="29.3" text-anchor="end"><tspan class="o">1</tspan></text>
<line x1="138" y1="935.5" x2="150.2" y2="935.5" stroke="#000" stroke-width="3.4" stroke-linecap="butt" />
<text transform="translate(135.1 949.2) scale(0.95 1)" font-size="29.3" text-anchor="end">2</text>
<line x1="138" y1="910.35" x2="150.2" y2="910.35" stroke="#000" stroke-width="3.4" stroke-linecap="butt" />
<text transform="translate(135.1 924.05) scale(0.95 1)" font-size="29.3" text-anchor="end">3</text>
<line x1="138" y1="885.2" x2="150.2" y2="885.2" stroke="#000" stroke-width="3.4" stroke-linecap="butt" />
<text transform="translate(135.1 898.9) scale(0.95 1)" font-size="29.3" text-anchor="end">4</text>
<line x1="138" y1="860.05" x2="150.2" y2="860.05" stroke="#000" stroke-width="3.4" stroke-linecap="butt" />
<text transform="translate(135.1 873.75) scale(0.95 1)" font-size="29.3" text-anchor="end">5</text>
<line x1="138" y1="834.9" x2="150.2" y2="834.9" stroke="#000" stroke-width="3.4" stroke-linecap="butt" />
<text transform="translate(135.1 848.6) scale(0.95 1)" font-size="29.3" text-anchor="end">6</text>
<line x1="138" y1="809.75" x2="150.2" y2="809.75" stroke="#000" stroke-width="3.4" stroke-linecap="butt" />
<text transform="translate(135.1 823.45) scale(0.95 1)" font-size="29.3" text-anchor="end">7</text>
<line x1="138" y1="784.6" x2="150.2" y2="784.6" stroke="#000" stroke-width="3.4" stroke-linecap="butt" />
<text transform="translate(135.1 798.3) scale(0.95 1)" font-size="29.3" text-anchor="end">8</text>
<line x1="138" y1="759.45" x2="150.2" y2="759.45" stroke="#000" stroke-width="3.4" stroke-linecap="butt" />
<text transform="translate(135.1 773.15) scale(0.95 1)" font-size="29.3" text-anchor="end">9</text>
<line x1="138" y1="734.3" x2="150.2" y2="734.3" stroke="#000" stroke-width="3.4" stroke-linecap="butt" />
<text transform="translate(135.1 748) scale(0.95 1)" font-size="29.3" text-anchor="end"><tspan class="o">1</tspan>0</text>
<line x1="138" y1="709.15" x2="150.2" y2="709.15" stroke="#000" stroke-width="3.4" stroke-linecap="butt" />
<text transform="translate(135.1 722.85) scale(0.95 1)" font-size="29.3" text-anchor="end"><tspan class="o">1</tspan><tspan class="o">1</tspan></text>
<line x1="138" y1="684" x2="150.2" y2="684" stroke="#000" stroke-width="3.4" stroke-linecap="butt" />
<text transform="translate(135.1 697.7) scale(0.95 1)" font-size="29.3" text-anchor="end"><tspan class="o">1</tspan>2</text>
<line x1="138" y1="658.85" x2="150.2" y2="658.85" stroke="#000" stroke-width="3.4" stroke-linecap="butt" />
<text transform="translate(135.1 672.55) scale(0.95 1)" font-size="29.3" text-anchor="end"><tspan class="o">1</tspan>3</text>
<line x1="138" y1="633.7" x2="150.2" y2="633.7" stroke="#000" stroke-width="3.4" stroke-linecap="butt" />
<text transform="translate(135.1 647.4) scale(0.95 1)" font-size="29.3" text-anchor="end"><tspan class="o">1</tspan>4</text>
<line x1="138" y1="608.55" x2="150.2" y2="608.55" stroke="#000" stroke-width="3.4" stroke-linecap="butt" />
<text transform="translate(135.1 622.25) scale(0.95 1)" font-size="29.3" text-anchor="end"><tspan class="o">1</tspan>5</text>
<line x1="150" y1="985.8" x2="150" y2="996.3" stroke="#000" stroke-width="3.4" stroke-linecap="butt" />
<text x="150" y="1027.3" font-size="29.8" text-anchor="middle" >0</text>
<line x1="245.25" y1="985.8" x2="245.25" y2="996.3" stroke="#000" stroke-width="3.4" stroke-linecap="butt" />
<text x="245.25" y="1027.3" font-size="29.8" text-anchor="middle" >24</text>
<line x1="340.5" y1="985.8" x2="340.5" y2="996.3" stroke="#000" stroke-width="3.4" stroke-linecap="butt" />
<text x="340.5" y="1027.3" font-size="29.8" text-anchor="middle" >48</text>
<line x1="435.75" y1="985.8" x2="435.75" y2="996.3" stroke="#000" stroke-width="3.4" stroke-linecap="butt" />
<text x="435.75" y="1027.3" font-size="29.8" text-anchor="middle" >72</text>
<line x1="531" y1="985.8" x2="531" y2="996.3" stroke="#000" stroke-width="3.4" stroke-linecap="butt" />
<text x="531" y="1027.3" font-size="29.8" text-anchor="middle" >96</text>
<text x="341.2" y="1068.8" font-size="31.5" text-anchor="middle" textLength="106.9" lengthAdjust="spacing" >time (h)</text>
<text x="85.8" y="796" font-size="31.5" text-anchor="middle" transform="rotate(-90 85.8 796)" textLength="225.5" lengthAdjust="spacing" >Cell growth(fold)</text>
<polyline points="150,960.65 245.25,959.14 340.5,936 435.75,895.26 531,883.94" fill="none" stroke="#000" stroke-width="3.8" stroke-linejoin="round"/>
<polyline points="150,960.65 245.25,954.36 340.5,907.83 435.75,883.44 531,861.56" fill="none" stroke="#000" stroke-width="3.8" stroke-linejoin="round"/>
<polyline points="150,960.65 245.25,948.07 340.5,891.24 435.75,827.36 531,742.1" fill="none" stroke="#000" stroke-width="3.8" stroke-linejoin="round"/>
<polyline points="150,960.65 245.25,942.54 340.5,881.18 435.75,824.84 531,718.2" fill="none" stroke="#000" stroke-width="3.8" stroke-linejoin="round" stroke-dasharray="7 13" stroke-linecap="round"/>
<line x1="340.5" y1="927" x2="340.5" y2="924.69" stroke="#000" stroke-width="3.7" stroke-linecap="butt" />
<line x1="340.5" y1="945" x2="340.5" y2="946.82" stroke="#000" stroke-width="3.7" stroke-linecap="butt" />
<line x1="332.8" y1="924.69" x2="348.2" y2="924.69" stroke="#000" stroke-width="3.6" stroke-linecap="butt" />
<line x1="332.8" y1="946.82" x2="348.2" y2="946.82" stroke="#000" stroke-width="3.6" stroke-linecap="butt" />
<line x1="428.05" y1="887.71" x2="443.45" y2="887.71" stroke="#000" stroke-width="3.6" stroke-linecap="butt" />
<line x1="428.05" y1="902.8" x2="443.45" y2="902.8" stroke="#000" stroke-width="3.6" stroke-linecap="butt" />
<line x1="531" y1="892.94" x2="531" y2="895.26" stroke="#000" stroke-width="3.7" stroke-linecap="butt" />
<line x1="523.3" y1="877.65" x2="538.7" y2="877.65" stroke="#000" stroke-width="3.6" stroke-linecap="butt" />
<line x1="523.3" y1="895.26" x2="538.7" y2="895.26" stroke="#000" stroke-width="3.6" stroke-linecap="butt" />
<line x1="340.5" y1="898.83" x2="340.5" y2="892.75" stroke="#000" stroke-width="3.7" stroke-linecap="butt" />
<line x1="340.5" y1="916.83" x2="340.5" y2="934.49" stroke="#000" stroke-width="3.7" stroke-linecap="butt" />
<line x1="332.8" y1="892.75" x2="348.2" y2="892.75" stroke="#000" stroke-width="3.6" stroke-linecap="butt" />
<line x1="332.8" y1="934.49" x2="348.2" y2="934.49" stroke="#000" stroke-width="3.6" stroke-linecap="butt" />
<line x1="428.05" y1="875.89" x2="443.45" y2="875.89" stroke="#000" stroke-width="3.6" stroke-linecap="butt" />
<line x1="428.05" y1="890.23" x2="443.45" y2="890.23" stroke="#000" stroke-width="3.6" stroke-linecap="butt" />
<line x1="531" y1="852.56" x2="531" y2="850.74" stroke="#000" stroke-width="3.7" stroke-linecap="butt" />
<line x1="531" y1="870.56" x2="531" y2="874.13" stroke="#000" stroke-width="3.7" stroke-linecap="butt" />
<line x1="523.3" y1="850.74" x2="538.7" y2="850.74" stroke="#000" stroke-width="3.6" stroke-linecap="butt" />
<line x1="523.3" y1="874.13" x2="538.7" y2="874.13" stroke="#000" stroke-width="3.6" stroke-linecap="butt" />
<line x1="332.8" y1="883.94" x2="348.2" y2="883.94" stroke="#000" stroke-width="3.6" stroke-linecap="butt" />
<line x1="332.8" y1="899.03" x2="348.2" y2="899.03" stroke="#000" stroke-width="3.6" stroke-linecap="butt" />
<line x1="435.75" y1="818.36" x2="435.75" y2="816.04" stroke="#000" stroke-width="3.7" stroke-linecap="butt" />
<line x1="435.75" y1="836.36" x2="435.75" y2="837.92" stroke="#000" stroke-width="3.7" stroke-linecap="butt" />
<line x1="428.05" y1="816.04" x2="443.45" y2="816.04" stroke="#000" stroke-width="3.6" stroke-linecap="butt" />
<line x1="428.05" y1="837.92" x2="443.45" y2="837.92" stroke="#000" stroke-width="3.6" stroke-linecap="butt" />
<line x1="531" y1="733.1" x2="531" y2="728.01" stroke="#000" stroke-width="3.7" stroke-linecap="butt" />
<line x1="531" y1="751.1" x2="531" y2="756.18" stroke="#000" stroke-width="3.7" stroke-linecap="butt" />
<line x1="523.3" y1="728.01" x2="538.7" y2="728.01" stroke="#000" stroke-width="3.6" stroke-linecap="butt" />
<line x1="523.3" y1="756.18" x2="538.7" y2="756.18" stroke="#000" stroke-width="3.6" stroke-linecap="butt" />
<line x1="340.5" y1="872.18" x2="340.5" y2="867.34" stroke="#000" stroke-width="3.7" stroke-linecap="butt" />
<line x1="340.5" y1="890.18" x2="340.5" y2="894.76" stroke="#000" stroke-width="3.7" stroke-linecap="butt" />
<line x1="332.8" y1="867.34" x2="348.2" y2="867.34" stroke="#000" stroke-width="3.6" stroke-linecap="butt" />
<line x1="332.8" y1="894.76" x2="348.2" y2="894.76" stroke="#000" stroke-width="3.6" stroke-linecap="butt" />
<line x1="435.75" y1="815.84" x2="435.75" y2="813.02" stroke="#000" stroke-width="3.7" stroke-linecap="butt" />
<line x1="435.75" y1="833.84" x2="435.75" y2="836.16" stroke="#000" stroke-width="3.7" stroke-linecap="butt" />
<line x1="428.05" y1="813.02" x2="443.45" y2="813.02" stroke="#000" stroke-width="3.6" stroke-linecap="butt" />
<line x1="428.05" y1="836.16" x2="443.45" y2="836.16" stroke="#000" stroke-width="3.6" stroke-linecap="butt" />
<line x1="531" y1="709.2" x2="531" y2="701.61" stroke="#000" stroke-width="3.7" stroke-linecap="butt" />
<line x1="531" y1="727.2" x2="531" y2="734.3" stroke="#000" stroke-width="3.7" stroke-linecap="butt" />
<line x1="523.3" y1="701.61" x2="538.7" y2="701.61" stroke="#000" stroke-width="3.6" stroke-linecap="butt" />
<line x1="523.3" y1="734.3" x2="538.7" y2="734.3" stroke="#000" stroke-width="3.6" stroke-linecap="butt" />
<path d="M150,952.85 L157.7,968.45 L142.3,968.45 Z" fill="#000"/>
<path d="M245.25,951.34 L252.95,966.94 L237.55,966.94 Z" fill="#000"/>
<path d="M340.5,928.2 L348.2,943.8 L332.8,943.8 Z" fill="#000"/>
<path d="M435.75,887.46 L443.45,903.06 L428.05,903.06 Z" fill="#000"/>
<path d="M531,876.14 L538.7,891.74 L523.3,891.74 Z" fill="#000"/>
<path d="M150,968.45 L157.7,952.85 L142.3,952.85 Z" fill="#000"/>
<path d="M245.25,962.16 L252.95,946.56 L237.55,946.56 Z" fill="#000"/>
<path d="M340.5,915.63 L348.2,900.03 L332.8,900.03 Z" fill="#000"/>
<path d="M435.75,891.24 L443.45,875.64 L428.05,875.64 Z" fill="#000"/>
<path d="M531,869.36 L538.7,853.76 L523.3,853.76 Z" fill="#000"/>
<circle cx="150" cy="960.65" r="7.35" fill="none" stroke="#000" stroke-width="3.7"/>
<circle cx="245.25" cy="948.07" r="7.35" fill="none" stroke="#000" stroke-width="3.7"/>
<circle cx="340.5" cy="891.24" r="7.35" fill="none" stroke="#000" stroke-width="3.7"/>
<circle cx="435.75" cy="827.36" r="7.35" fill="none" stroke="#000" stroke-width="3.7"/>
<circle cx="531" cy="742.1" r="7.35" fill="none" stroke="#000" stroke-width="3.7"/>
<rect x="142.5" y="953.15" width="15" height="15" fill="none" stroke="#000" stroke-width="3.7" stroke-linejoin="round"/>
<rect x="237.75" y="935.04" width="15" height="15" fill="none" stroke="#000" stroke-width="3.7" stroke-linejoin="round"/>
<rect x="333" y="873.68" width="15" height="15" fill="none" stroke="#000" stroke-width="3.7" stroke-linejoin="round"/>
<rect x="428.25" y="817.34" width="15" height="15" fill="none" stroke="#000" stroke-width="3.7" stroke-linejoin="round"/>
<rect x="523.5" y="710.7" width="15" height="15" fill="none" stroke="#000" stroke-width="3.7" stroke-linejoin="round"/>
<line x1="170.8" y1="617.7" x2="211.6" y2="617.7" stroke="#000" stroke-width="3.7" stroke-linecap="butt" />
<circle cx="191.4" cy="617.7" r="7.35" fill="none" stroke="#000" stroke-width="3.7"/>
<text x="222.6" y="627.4" font-size="30.5" text-anchor="start" >Mock</text>
<line x1="172.65" y1="650.6" x2="178.25" y2="650.6" stroke="#000" stroke-width="3.7" stroke-linecap="round" />
<line x1="190.05" y1="650.6" x2="196.45" y2="650.6" stroke="#000" stroke-width="3.7" stroke-linecap="round" />
<line x1="208.85" y1="650.6" x2="209.75" y2="650.6" stroke="#000" stroke-width="3.7" stroke-linecap="round" />
<rect x="183.9" y="643.1" width="15" height="15" fill="none" stroke="#000" stroke-width="3.7" stroke-linejoin="round"/>
<text x="222.6" y="660.2" font-size="30.5" text-anchor="start" textLength="152.1" lengthAdjust="spacing" >Scrambled</text>
<line x1="170.8" y1="686.7" x2="211.6" y2="686.7" stroke="#000" stroke-width="3.7" stroke-linecap="butt" />
<path d="M191.4,678.9 L199.1,694.5 L183.7,694.5 Z" fill="#000"/>
<text x="222.6" y="695.3" font-size="30.5" text-anchor="start" >shRNA<tspan class="o">1</tspan></text>
<line x1="170.8" y1="722.6" x2="211.6" y2="722.6" stroke="#000" stroke-width="3.7" stroke-linecap="butt" />
<path d="M191.4,730.4 L199.1,714.8 L183.7,714.8 Z" fill="#000"/>
<text x="222.6" y="730.5" font-size="30.5" text-anchor="start" >shRNA2</text>
<path d="M433.75,935.2 L435.05,927.7 A1.65,1.65 0 1 0 431.75,927.7 L433.05,935.2 Z M433.56,935.51 L440.27,933.42 A1.65,1.65 0 1 0 438.72,930.5 L433.24,934.89 Z M433.24,935.51 L438.72,939.9 A1.65,1.65 0 1 0 440.27,936.98 L433.56,934.89 Z M433.05,935.2 L431.75,942.7 A1.65,1.65 0 1 0 435.05,942.7 L433.75,935.2 Z M433.24,934.89 L426.53,936.98 A1.65,1.65 0 1 0 428.08,939.9 L433.56,935.51 Z M433.56,934.89 L428.08,930.5 A1.65,1.65 0 1 0 426.53,933.42 L433.24,935.51 Z" fill="#000"/>
<path d="M531.35,925.5 L532.65,918 A1.65,1.65 0 1 0 529.35,918 L530.65,925.5 Z M531.16,925.81 L537.87,923.72 A1.65,1.65 0 1 0 536.32,920.8 L530.84,925.19 Z M530.84,925.81 L536.32,930.2 A1.65,1.65 0 1 0 537.87,927.28 L531.16,925.19 Z M530.65,925.5 L529.35,933 A1.65,1.65 0 1 0 532.65,933 L531.35,925.5 Z M530.84,925.19 L524.13,927.28 A1.65,1.65 0 1 0 525.68,930.2 L531.16,925.81 Z M531.16,925.19 L525.68,920.8 A1.65,1.65 0 1 0 524.13,923.72 L530.84,925.81 Z" fill="#000"/>
<line x1="680" y1="604.9" x2="680" y2="986.3" stroke="#000" stroke-width="3.5" stroke-linecap="butt" />
<line x1="668" y1="984.6" x2="1062" y2="984.6" stroke="#000" stroke-width="3.5" stroke-linecap="butt" />
<text transform="translate(665 998.3) scale(0.95 1)" font-size="29.3" text-anchor="end">0</text>
<line x1="668" y1="959.4" x2="680" y2="959.4" stroke="#000" stroke-width="3.4" stroke-linecap="butt" />
<text transform="translate(665 973.1) scale(0.95 1)" font-size="29.3" text-anchor="end"><tspan class="o">1</tspan></text>
<line x1="668" y1="934.2" x2="680" y2="934.2" stroke="#000" stroke-width="3.4" stroke-linecap="butt" />
<text transform="translate(665 947.9) scale(0.95 1)" font-size="29.3" text-anchor="end">2</text>
<line x1="668" y1="909" x2="680" y2="909" stroke="#000" stroke-width="3.4" stroke-linecap="butt" />
<text transform="translate(665 922.7) scale(0.95 1)" font-size="29.3" text-anchor="end">3</text>
<line x1="668" y1="883.8" x2="680" y2="883.8" stroke="#000" stroke-width="3.4" stroke-linecap="butt" />
<text transform="translate(665 897.5) scale(0.95 1)" font-size="29.3" text-anchor="end">4</text>
<line x1="668" y1="858.6" x2="680" y2="858.6" stroke="#000" stroke-width="3.4" stroke-linecap="butt" />
<text transform="translate(665 872.3) scale(0.95 1)" font-size="29.3" text-anchor="end">5</text>
<line x1="668" y1="833.4" x2="680" y2="833.4" stroke="#000" stroke-width="3.4" stroke-linecap="butt" />
<text transform="translate(665 847.1) scale(0.95 1)" font-size="29.3" text-anchor="end">6</text>
<line x1="668" y1="808.2" x2="680" y2="808.2" stroke="#000" stroke-width="3.4" stroke-linecap="butt" />
<text transform="translate(665 821.9) scale(0.95 1)" font-size="29.3" text-anchor="end">7</text>
<line x1="668" y1="783" x2="680" y2="783" stroke="#000" stroke-width="3.4" stroke-linecap="butt" />
<text transform="translate(665 796.7) scale(0.95 1)" font-size="29.3" text-anchor="end">8</text>
<line x1="668" y1="757.8" x2="680" y2="757.8" stroke="#000" stroke-width="3.4" stroke-linecap="butt" />
<text transform="translate(665 771.5) scale(0.95 1)" font-size="29.3" text-anchor="end">9</text>
<line x1="668" y1="732.6" x2="680" y2="732.6" stroke="#000" stroke-width="3.4" stroke-linecap="butt" />
<text transform="translate(665 746.3) scale(0.95 1)" font-size="29.3" text-anchor="end"><tspan class="o">1</tspan>0</text>
<line x1="668" y1="707.4" x2="680" y2="707.4" stroke="#000" stroke-width="3.4" stroke-linecap="butt" />
<text transform="translate(665 721.1) scale(0.95 1)" font-size="29.3" text-anchor="end"><tspan class="o">1</tspan><tspan class="o">1</tspan></text>
<line x1="668" y1="682.2" x2="680" y2="682.2" stroke="#000" stroke-width="3.4" stroke-linecap="butt" />
<text transform="translate(665 695.9) scale(0.95 1)" font-size="29.3" text-anchor="end"><tspan class="o">1</tspan>2</text>
<line x1="668" y1="657" x2="680" y2="657" stroke="#000" stroke-width="3.4" stroke-linecap="butt" />
<text transform="translate(665 670.7) scale(0.95 1)" font-size="29.3" text-anchor="end"><tspan class="o">1</tspan>3</text>
<line x1="668" y1="631.8" x2="680" y2="631.8" stroke="#000" stroke-width="3.4" stroke-linecap="butt" />
<text transform="translate(665 645.5) scale(0.95 1)" font-size="29.3" text-anchor="end"><tspan class="o">1</tspan>4</text>
<line x1="668" y1="606.6" x2="680" y2="606.6" stroke="#000" stroke-width="3.4" stroke-linecap="butt" />
<text transform="translate(665 620.3) scale(0.95 1)" font-size="29.3" text-anchor="end"><tspan class="o">1</tspan>5</text>
<line x1="680" y1="984.6" x2="680" y2="995.1" stroke="#000" stroke-width="3.4" stroke-linecap="butt" />
<text x="680" y="1027.5" font-size="29.8" text-anchor="middle" >0</text>
<line x1="775.5" y1="984.6" x2="775.5" y2="995.1" stroke="#000" stroke-width="3.4" stroke-linecap="butt" />
<text x="775.5" y="1027.5" font-size="29.8" text-anchor="middle" >24</text>
<line x1="871" y1="984.6" x2="871" y2="995.1" stroke="#000" stroke-width="3.4" stroke-linecap="butt" />
<text x="871" y="1027.5" font-size="29.8" text-anchor="middle" >48</text>
<line x1="966.5" y1="984.6" x2="966.5" y2="995.1" stroke="#000" stroke-width="3.4" stroke-linecap="butt" />
<text x="966.5" y="1027.5" font-size="29.8" text-anchor="middle" >72</text>
<line x1="1062" y1="984.6" x2="1062" y2="995.1" stroke="#000" stroke-width="3.4" stroke-linecap="butt" />
<text x="1062" y="1027.5" font-size="29.8" text-anchor="middle" >96</text>
<text x="871.4" y="1068.4" font-size="31.5" text-anchor="middle" textLength="106.9" lengthAdjust="spacing" >time (h)</text>
<polyline points="680,959.4 775.5,942.01 871,945.79 966.5,923.36 1062,903.46" fill="none" stroke="#000" stroke-width="3.8" stroke-linejoin="round"/>
<polyline points="680,959.4 775.5,949.32 871,920.34 966.5,895.9 1062,887.08" fill="none" stroke="#000" stroke-width="3.8" stroke-linejoin="round"/>
<polyline points="680,959.4 775.5,948.06 871,896.9 966.5,851.29 1062,732.6" fill="none" stroke="#000" stroke-width="3.8" stroke-linejoin="round"/>
<polyline points="680,959.4 775.5,939.24 871,869.94 966.5,844.74 1062,693.54" fill="none" stroke="#000" stroke-width="3.8" stroke-linejoin="round" stroke-dasharray="7 13" stroke-linecap="round"/>
<line x1="775.5" y1="933.01" x2="775.5" y2="929.16" stroke="#000" stroke-width="3.7" stroke-linecap="butt" />
<line x1="775.5" y1="951.01" x2="775.5" y2="965.7" stroke="#000" stroke-width="3.7" stroke-linecap="butt" />
<line x1="767.8" y1="929.16" x2="783.2" y2="929.16" stroke="#000" stroke-width="3.6" stroke-linecap="butt" />
<line x1="767.8" y1="965.7" x2="783.2" y2="965.7" stroke="#000" stroke-width="3.6" stroke-linecap="butt" />
<line x1="871" y1="936.79" x2="871" y2="926.64" stroke="#000" stroke-width="3.7" stroke-linecap="butt" />
<line x1="871" y1="954.79" x2="871" y2="966.46" stroke="#000" stroke-width="3.7" stroke-linecap="butt" />
<line x1="863.3" y1="926.64" x2="878.7" y2="926.64" stroke="#000" stroke-width="3.6" stroke-linecap="butt" />
<line x1="863.3" y1="966.46" x2="878.7" y2="966.46" stroke="#000" stroke-width="3.6" stroke-linecap="butt" />
<line x1="966.5" y1="914.36" x2="966.5" y2="906.48" stroke="#000" stroke-width="3.7" stroke-linecap="butt" />
<line x1="966.5" y1="932.36" x2="966.5" y2="939.74" stroke="#000" stroke-width="3.7" stroke-linecap="butt" />
<line x1="958.8" y1="906.48" x2="974.2" y2="906.48" stroke="#000" stroke-width="3.6" stroke-linecap="butt" />
<line x1="958.8" y1="939.74" x2="974.2" y2="939.74" stroke="#000" stroke-width="3.6" stroke-linecap="butt" />
<line x1="1062" y1="894.46" x2="1062" y2="878.76" stroke="#000" stroke-width="3.7" stroke-linecap="butt" />
<line x1="1062" y1="912.46" x2="1062" y2="929.92" stroke="#000" stroke-width="3.7" stroke-linecap="butt" />
<line x1="1054.3" y1="878.76" x2="1069.7" y2="878.76" stroke="#000" stroke-width="3.6" stroke-linecap="butt" />
<line x1="1054.3" y1="929.92" x2="1069.7" y2="929.92" stroke="#000" stroke-width="3.6" stroke-linecap="butt" />
<line x1="871" y1="911.34" x2="871" y2="903.96" stroke="#000" stroke-width="3.7" stroke-linecap="butt" />
<line x1="871" y1="929.34" x2="871" y2="939.24" stroke="#000" stroke-width="3.7" stroke-linecap="butt" />
<line x1="863.3" y1="903.96" x2="878.7" y2="903.96" stroke="#000" stroke-width="3.6" stroke-linecap="butt" />
<line x1="863.3" y1="939.24" x2="878.7" y2="939.24" stroke="#000" stroke-width="3.6" stroke-linecap="butt" />
<line x1="966.5" y1="886.9" x2="966.5" y2="878.76" stroke="#000" stroke-width="3.7" stroke-linecap="butt" />
<line x1="966.5" y1="904.9" x2="966.5" y2="914.04" stroke="#000" stroke-width="3.7" stroke-linecap="butt" />
<line x1="958.8" y1="878.76" x2="974.2" y2="878.76" stroke="#000" stroke-width="3.6" stroke-linecap="butt" />
<line x1="958.8" y1="914.04" x2="974.2" y2="914.04" stroke="#000" stroke-width="3.6" stroke-linecap="butt" />
<line x1="1062" y1="878.08" x2="1062" y2="865.4" stroke="#000" stroke-width="3.7" stroke-linecap="butt" />
<line x1="1062" y1="896.08" x2="1062" y2="906.48" stroke="#000" stroke-width="3.7" stroke-linecap="butt" />
<line x1="1054.3" y1="865.4" x2="1069.7" y2="865.4" stroke="#000" stroke-width="3.6" stroke-linecap="butt" />
<line x1="1054.3" y1="906.48" x2="1069.7" y2="906.48" stroke="#000" stroke-width="3.6" stroke-linecap="butt" />
<line x1="871" y1="887.9" x2="871" y2="885.06" stroke="#000" stroke-width="3.7" stroke-linecap="butt" />
<line x1="871" y1="905.9" x2="871" y2="909" stroke="#000" stroke-width="3.7" stroke-linecap="butt" />
<line x1="863.3" y1="885.06" x2="878.7" y2="885.06" stroke="#000" stroke-width="3.6" stroke-linecap="butt" />
<line x1="863.3" y1="909" x2="878.7" y2="909" stroke="#000" stroke-width="3.6" stroke-linecap="butt" />
<line x1="966.5" y1="842.29" x2="966.5" y2="829.12" stroke="#000" stroke-width="3.7" stroke-linecap="butt" />
<line x1="966.5" y1="860.29" x2="966.5" y2="863.89" stroke="#000" stroke-width="3.7" stroke-linecap="butt" />
<line x1="958.8" y1="829.12" x2="974.2" y2="829.12" stroke="#000" stroke-width="3.6" stroke-linecap="butt" />
<line x1="958.8" y1="863.89" x2="974.2" y2="863.89" stroke="#000" stroke-width="3.6" stroke-linecap="butt" />
<line x1="1062" y1="723.6" x2="1062" y2="697.32" stroke="#000" stroke-width="3.7" stroke-linecap="butt" />
<line x1="1062" y1="741.6" x2="1062" y2="767.88" stroke="#000" stroke-width="3.7" stroke-linecap="butt" />
<line x1="1054.3" y1="697.32" x2="1069.7" y2="697.32" stroke="#000" stroke-width="3.6" stroke-linecap="butt" />
<line x1="1054.3" y1="767.88" x2="1069.7" y2="767.88" stroke="#000" stroke-width="3.6" stroke-linecap="butt" />
<line x1="775.5" y1="930.24" x2="775.5" y2="924.37" stroke="#000" stroke-width="3.7" stroke-linecap="butt" />
<line x1="775.5" y1="948.24" x2="775.5" y2="954.36" stroke="#000" stroke-width="3.7" stroke-linecap="butt" />
<line x1="767.8" y1="924.37" x2="783.2" y2="924.37" stroke="#000" stroke-width="3.6" stroke-linecap="butt" />
<line x1="767.8" y1="954.36" x2="783.2" y2="954.36" stroke="#000" stroke-width="3.6" stroke-linecap="butt" />
<line x1="871" y1="860.94" x2="871" y2="853.56" stroke="#000" stroke-width="3.7" stroke-linecap="butt" />
<line x1="871" y1="878.94" x2="871" y2="886.32" stroke="#000" stroke-width="3.7" stroke-linecap="butt" />
<line x1="863.3" y1="853.56" x2="878.7" y2="853.56" stroke="#000" stroke-width="3.6" stroke-linecap="butt" />
<line x1="863.3" y1="886.32" x2="878.7" y2="886.32" stroke="#000" stroke-width="3.6" stroke-linecap="butt" />
<line x1="966.5" y1="835.74" x2="966.5" y2="808.45" stroke="#000" stroke-width="3.7" stroke-linecap="butt" />
<line x1="966.5" y1="853.74" x2="966.5" y2="878.76" stroke="#000" stroke-width="3.7" stroke-linecap="butt" />
<line x1="958.8" y1="808.45" x2="974.2" y2="808.45" stroke="#000" stroke-width="3.6" stroke-linecap="butt" />
<line x1="958.8" y1="878.76" x2="974.2" y2="878.76" stroke="#000" stroke-width="3.6" stroke-linecap="butt" />
<line x1="1062" y1="684.54" x2="1062" y2="640.62" stroke="#000" stroke-width="3.7" stroke-linecap="butt" />
<line x1="1062" y1="702.54" x2="1062" y2="747.72" stroke="#000" stroke-width="3.7" stroke-linecap="butt" />
<line x1="1054.3" y1="640.62" x2="1069.7" y2="640.62" stroke="#000" stroke-width="3.6" stroke-linecap="butt" />
<line x1="1054.3" y1="747.72" x2="1069.7" y2="747.72" stroke="#000" stroke-width="3.6" stroke-linecap="butt" />
<path d="M680,951.6 L687.7,967.2 L672.3,967.2 Z" fill="#000"/>
<path d="M775.5,934.21 L783.2,949.81 L767.8,949.81 Z" fill="#000"/>
<path d="M871,937.99 L878.7,953.59 L863.3,953.59 Z" fill="#000"/>
<path d="M966.5,915.56 L974.2,931.16 L958.8,931.16 Z" fill="#000"/>
<path d="M1062,895.66 L1069.7,911.26 L1054.3,911.26 Z" fill="#000"/>
<path d="M680,967.2 L687.7,951.6 L672.3,951.6 Z" fill="#000"/>
<path d="M775.5,957.12 L783.2,941.52 L767.8,941.52 Z" fill="#000"/>
<path d="M871,928.14 L878.7,912.54 L863.3,912.54 Z" fill="#000"/>
<path d="M966.5,903.7 L974.2,888.1 L958.8,888.1 Z" fill="#000"/>
<path d="M1062,894.88 L1069.7,879.28 L1054.3,879.28 Z" fill="#000"/>
<circle cx="680" cy="959.4" r="7.35" fill="none" stroke="#000" stroke-width="3.7"/>
<circle cx="775.5" cy="948.06" r="7.35" fill="none" stroke="#000" stroke-width="3.7"/>
<circle cx="871" cy="896.9" r="7.35" fill="none" stroke="#000" stroke-width="3.7"/>
<circle cx="966.5" cy="851.29" r="7.35" fill="none" stroke="#000" stroke-width="3.7"/>
<circle cx="1062" cy="732.6" r="7.35" fill="none" stroke="#000" stroke-width="3.7"/>
<rect x="672.5" y="951.9" width="15" height="15" fill="none" stroke="#000" stroke-width="3.7" stroke-linejoin="round"/>
<rect x="768" y="931.74" width="15" height="15" fill="none" stroke="#000" stroke-width="3.7" stroke-linejoin="round"/>
<rect x="863.5" y="862.44" width="15" height="15" fill="none" stroke="#000" stroke-width="3.7" stroke-linejoin="round"/>
<rect x="959" y="837.24" width="15" height="15" fill="none" stroke="#000" stroke-width="3.7" stroke-linejoin="round"/>
<rect x="1054.5" y="686.04" width="15" height="15" fill="none" stroke="#000" stroke-width="3.7" stroke-linejoin="round"/>
<line x1="701.3" y1="617.8" x2="742" y2="617.8" stroke="#000" stroke-width="3.7" stroke-linecap="butt" />
<circle cx="721.7" cy="617.8" r="7.35" fill="none" stroke="#000" stroke-width="3.7"/>
<text x="753.4" y="627.4" font-size="30.5" text-anchor="start" >Mock</text>
<line x1="703.15" y1="650.8" x2="708.75" y2="650.8" stroke="#000" stroke-width="3.7" stroke-linecap="round" />
<line x1="720.55" y1="650.8" x2="726.95" y2="650.8" stroke="#000" stroke-width="3.7" stroke-linecap="round" />
<line x1="739.35" y1="650.8" x2="740.25" y2="650.8" stroke="#000" stroke-width="3.7" stroke-linecap="round" />
<rect x="714.2" y="643.3" width="15" height="15" fill="none" stroke="#000" stroke-width="3.7" stroke-linejoin="round"/>
<text x="753.4" y="660.4" font-size="30.5" text-anchor="start" textLength="152.1" lengthAdjust="spacing" >Scrambled</text>
<line x1="701.3" y1="686.7" x2="742" y2="686.7" stroke="#000" stroke-width="3.7" stroke-linecap="butt" />
<path d="M721.7,678.9 L729.4,694.5 L714,694.5 Z" fill="#000"/>
<text x="753.4" y="695.4" font-size="30.5" text-anchor="start" >shRNA<tspan class="o">1</tspan></text>
<line x1="701.3" y1="722.4" x2="742" y2="722.4" stroke="#000" stroke-width="3.7" stroke-linecap="butt" />
<path d="M721.7,730.2 L729.4,714.6 L714,714.6 Z" fill="#000"/>
<text x="753.4" y="730.7" font-size="30.5" text-anchor="start" >shRNA2</text>
<path d="M965.15,962.1 L966.45,954.6 A1.65,1.65 0 1 0 963.15,954.6 L964.45,962.1 Z M964.96,962.41 L971.67,960.32 A1.65,1.65 0 1 0 970.12,957.4 L964.64,961.79 Z M964.64,962.41 L970.12,966.8 A1.65,1.65 0 1 0 971.67,963.88 L964.96,961.79 Z M964.45,962.1 L963.15,969.6 A1.65,1.65 0 1 0 966.45,969.6 L965.15,962.1 Z M964.64,961.79 L957.93,963.88 A1.65,1.65 0 1 0 959.48,966.8 L964.96,962.41 Z M964.96,961.79 L959.48,957.4 A1.65,1.65 0 1 0 957.93,960.32 L964.64,962.41 Z" fill="#000"/>
<path d="M1063.15,952.2 L1064.45,944.7 A1.65,1.65 0 1 0 1061.15,944.7 L1062.45,952.2 Z M1062.96,952.51 L1069.67,950.42 A1.65,1.65 0 1 0 1068.12,947.5 L1062.64,951.89 Z M1062.64,952.51 L1068.12,956.9 A1.65,1.65 0 1 0 1069.67,953.98 L1062.96,951.89 Z M1062.45,952.2 L1061.15,959.7 A1.65,1.65 0 1 0 1064.45,959.7 L1063.15,952.2 Z M1062.64,951.89 L1055.93,953.98 A1.65,1.65 0 1 0 1057.48,956.9 L1062.96,952.51 Z M1062.96,951.89 L1057.48,947.5 A1.65,1.65 0 1 0 1055.93,950.42 L1062.64,952.51 Z" fill="#000"/>
<rect x="766.3" y="935.5" width="18.5" height="20" fill="#000"/>
<rect x="768" y="923.2" width="15" height="45" fill="#000"/>
<line x1="158.5" y1="2253.2" x2="518.3" y2="2253.2" stroke="#000" stroke-width="3.2" stroke-linecap="butt" />
<line x1="674.8" y1="2250.8" x2="1034.1" y2="2250.8" stroke="#000" stroke-width="3.2" stroke-linecap="butt" />
<text x="317.9" y="2296" font-size="37.3" text-anchor="middle" >MM<tspan class="o">1</tspan>S</text>
<text x="844.9" y="2296" font-size="37.3" text-anchor="middle" >RPMI</text>
<path transform="translate(133 418.71) scale(0.955 1) translate(-16.19 0) scale(0.01421 -0.01421)" d="M763 0 L583 0 L583 1147 Q518 1085 412 1023 Q306 961 222 930 L222 1104 Q373 1175 486 1276 Q599 1377 646 1472 L763 1472 Z" fill="#000" stroke="#000" stroke-width="0.3" vector-effect="non-scaling-stroke"/>
<path transform="translate(133 135.3) scale(0.955 1) translate(-40.45 0) scale(0.01421 -0.01421)" d="M763 0 L583 0 L583 1147 Q518 1085 412 1023 Q306 961 222 930 L222 1104 Q373 1175 486 1276 Q599 1377 646 1472 L763 1472 Z" fill="#000" stroke="#000" stroke-width="0.3" vector-effect="non-scaling-stroke"/>
<path transform="translate(133 103.81) scale(0.955 1) translate(-40.46 0) scale(0.01421 -0.01421)" d="M763 0 L583 0 L583 1147 Q518 1085 412 1023 Q306 961 222 930 L222 1104 Q373 1175 486 1276 Q599 1377 646 1472 L763 1472 Z" fill="#000" stroke="#000" stroke-width="0.3" vector-effect="non-scaling-stroke"/>
<path transform="translate(133 103.81) scale(0.955 1) translate(-16.19 0) scale(0.01421 -0.01421)" d="M763 0 L583 0 L583 1147 Q518 1085 412 1023 Q306 961 222 930 L222 1104 Q373 1175 486 1276 Q599 1377 646 1472 L763 1472 Z" fill="#000" stroke="#000" stroke-width="0.3" vector-effect="non-scaling-stroke"/>
<path transform="translate(133 72.32) scale(0.955 1) translate(-40.45 0) scale(0.01421 -0.01421)" d="M763 0 L583 0 L583 1147 Q518 1085 412 1023 Q306 961 222 930 L222 1104 Q373 1175 486 1276 Q599 1377 646 1472 L763 1472 Z" fill="#000" stroke="#000" stroke-width="0.3" vector-effect="non-scaling-stroke"/>
<path transform="rotate(-45 397.2 470) translate(381.06 470) scale(0.01416 -0.01416)" d="M763 0 L583 0 L583 1147 Q518 1085 412 1023 Q306 961 222 930 L222 1104 Q373 1175 486 1276 Q599 1377 646 1472 L763 1472 Z" fill="#000" stroke="#000" stroke-width="0.3" vector-effect="non-scaling-stroke"/>
<path transform="rotate(-90 74.5 256.1) translate(-9.88 256.1) scale(0.01538 -0.01538)" d="M763 0 L583 0 L583 1147 Q518 1085 412 1023 Q306 961 222 930 L222 1104 Q373 1175 486 1276 Q599 1377 646 1472 L763 1472 Z" fill="#000" stroke="#000" stroke-width="0.3" vector-effect="non-scaling-stroke"/>
<path transform="translate(664 417.88) scale(0.955 1) translate(-16.19 0) scale(0.01421 -0.01421)" d="M763 0 L583 0 L583 1147 Q518 1085 412 1023 Q306 961 222 930 L222 1104 Q373 1175 486 1276 Q599 1377 646 1472 L763 1472 Z" fill="#000" stroke="#000" stroke-width="0.3" vector-effect="non-scaling-stroke"/>
<path transform="translate(664 128.75) scale(0.955 1) translate(-40.45 0) scale(0.01421 -0.01421)" d="M763 0 L583 0 L583 1147 Q518 1085 412 1023 Q306 961 222 930 L222 1104 Q373 1175 486 1276 Q599 1377 646 1472 L763 1472 Z" fill="#000" stroke="#000" stroke-width="0.3" vector-effect="non-scaling-stroke"/>
<path transform="translate(664 96.62) scale(0.955 1) translate(-40.46 0) scale(0.01421 -0.01421)" d="M763 0 L583 0 L583 1147 Q518 1085 412 1023 Q306 961 222 930 L222 1104 Q373 1175 486 1276 Q599 1377 646 1472 L763 1472 Z" fill="#000" stroke="#000" stroke-width="0.3" vector-effect="non-scaling-stroke"/>
<path transform="translate(664 96.62) scale(0.955 1) translate(-16.19 0) scale(0.01421 -0.01421)" d="M763 0 L583 0 L583 1147 Q518 1085 412 1023 Q306 961 222 930 L222 1104 Q373 1175 486 1276 Q599 1377 646 1472 L763 1472 Z" fill="#000" stroke="#000" stroke-width="0.3" vector-effect="non-scaling-stroke"/>
<path transform="translate(664 64.5) scale(0.955 1) translate(-40.45 0) scale(0.01421 -0.01421)" d="M763 0 L583 0 L583 1147 Q518 1085 412 1023 Q306 961 222 930 L222 1104 Q373 1175 486 1276 Q599 1377 646 1472 L763 1472 Z" fill="#000" stroke="#000" stroke-width="0.3" vector-effect="non-scaling-stroke"/>
<path transform="rotate(-45 931.5 468) translate(915.36 468) scale(0.01416 -0.01416)" d="M763 0 L583 0 L583 1147 Q518 1085 412 1023 Q306 961 222 930 L222 1104 Q373 1175 486 1276 Q599 1377 646 1472 L763 1472 Z" fill="#000" stroke="#000" stroke-width="0.3" vector-effect="non-scaling-stroke"/>
<path transform="translate(133 1531.01) scale(0.955 1) translate(-16.19 0) scale(0.01421 -0.01421)" d="M763 0 L583 0 L583 1147 Q518 1085 412 1023 Q306 961 222 930 L222 1104 Q373 1175 486 1276 Q599 1377 646 1472 L763 1472 Z" fill="#000" stroke="#000" stroke-width="0.3" vector-effect="non-scaling-stroke"/>
<path transform="translate(133 1246.7) scale(0.955 1) translate(-40.45 0) scale(0.01421 -0.01421)" d="M763 0 L583 0 L583 1147 Q518 1085 412 1023 Q306 961 222 930 L222 1104 Q373 1175 486 1276 Q599 1377 646 1472 L763 1472 Z" fill="#000" stroke="#000" stroke-width="0.3" vector-effect="non-scaling-stroke"/>
<path transform="translate(133 1215.11) scale(0.955 1) translate(-40.46 0) scale(0.01421 -0.01421)" d="M763 0 L583 0 L583 1147 Q518 1085 412 1023 Q306 961 222 930 L222 1104 Q373 1175 486 1276 Q599 1377 646 1472 L763 1472 Z" fill="#000" stroke="#000" stroke-width="0.3" vector-effect="non-scaling-stroke"/>
<path transform="translate(133 1215.11) scale(0.955 1) translate(-16.19 0) scale(0.01421 -0.01421)" d="M763 0 L583 0 L583 1147 Q518 1085 412 1023 Q306 961 222 930 L222 1104 Q373 1175 486 1276 Q599 1377 646 1472 L763 1472 Z" fill="#000" stroke="#000" stroke-width="0.3" vector-effect="non-scaling-stroke"/>
<path transform="translate(133 1183.52) scale(0.955 1) translate(-40.45 0) scale(0.01421 -0.01421)" d="M763 0 L583 0 L583 1147 Q518 1085 412 1023 Q306 961 222 930 L222 1104 Q373 1175 486 1276 Q599 1377 646 1472 L763 1472 Z" fill="#000" stroke="#000" stroke-width="0.3" vector-effect="non-scaling-stroke"/>
<path transform="rotate(-45 401.4 1584.1) translate(385.26 1584.1) scale(0.01416 -0.01416)" d="M763 0 L583 0 L583 1147 Q518 1085 412 1023 Q306 961 222 930 L222 1104 Q373 1175 486 1276 Q599 1377 646 1472 L763 1472 Z" fill="#000" stroke="#000" stroke-width="0.3" vector-effect="non-scaling-stroke"/>
<path transform="translate(664.5 1530.23) scale(0.955 1) translate(-16.19 0) scale(0.01421 -0.01421)" d="M763 0 L583 0 L583 1147 Q518 1085 412 1023 Q306 961 222 930 L222 1104 Q373 1175 486 1276 Q599 1377 646 1472 L763 1472 Z" fill="#000" stroke="#000" stroke-width="0.3" vector-effect="non-scaling-stroke"/>
<path transform="translate(664.5 1247) scale(0.955 1) translate(-40.45 0) scale(0.01421 -0.01421)" d="M763 0 L583 0 L583 1147 Q518 1085 412 1023 Q306 961 222 930 L222 1104 Q373 1175 486 1276 Q599 1377 646 1472 L763 1472 Z" fill="#000" stroke="#000" stroke-width="0.3" vector-effect="non-scaling-stroke"/>
<path transform="translate(664.5 1215.53) scale(0.955 1) translate(-40.46 0) scale(0.01421 -0.01421)" d="M763 0 L583 0 L583 1147 Q518 1085 412 1023 Q306 961 222 930 L222 1104 Q373 1175 486 1276 Q599 1377 646 1472 L763 1472 Z" fill="#000" stroke="#000" stroke-width="0.3" vector-effect="non-scaling-stroke"/>
<path transform="translate(664.5 1215.53) scale(0.955 1) translate(-16.19 0) scale(0.01421 -0.01421)" d="M763 0 L583 0 L583 1147 Q518 1085 412 1023 Q306 961 222 930 L222 1104 Q373 1175 486 1276 Q599 1377 646 1472 L763 1472 Z" fill="#000" stroke="#000" stroke-width="0.3" vector-effect="non-scaling-stroke"/>
<path transform="translate(664.5 1184.06) scale(0.955 1) translate(-40.45 0) scale(0.01421 -0.01421)" d="M763 0 L583 0 L583 1147 Q518 1085 412 1023 Q306 961 222 930 L222 1104 Q373 1175 486 1276 Q599 1377 646 1472 L763 1472 Z" fill="#000" stroke="#000" stroke-width="0.3" vector-effect="non-scaling-stroke"/>
<path transform="rotate(-45 935.2 1580.2) translate(919.06 1580.2) scale(0.01416 -0.01416)" d="M763 0 L583 0 L583 1147 Q518 1085 412 1023 Q306 961 222 930 L222 1104 Q373 1175 486 1276 Q599 1377 646 1472 L763 1472 Z" fill="#000" stroke="#000" stroke-width="0.3" vector-effect="non-scaling-stroke"/>
<path transform="translate(144.2 1999.33) scale(1.0 1) translate(-49.25 0) scale(0.01440 -0.01440)" d="M763 0 L583 0 L583 1147 Q518 1085 412 1023 Q306 961 222 930 L222 1104 Q373 1175 486 1276 Q599 1377 646 1472 L763 1472 Z" fill="#000" stroke="#000" stroke-width="0.3" vector-effect="non-scaling-stroke"/>
<path transform="rotate(-45 410.4 2148.2) translate(394.26 2148.2) scale(0.01416 -0.01416)" d="M763 0 L583 0 L583 1147 Q518 1085 412 1023 Q306 961 222 930 L222 1104 Q373 1175 486 1276 Q599 1377 646 1472 L763 1472 Z" fill="#000" stroke="#000" stroke-width="0.3" vector-effect="non-scaling-stroke"/>
<path transform="translate(677.5 1999.07) scale(1.0 1) translate(-49.25 0) scale(0.01440 -0.01440)" d="M763 0 L583 0 L583 1147 Q518 1085 412 1023 Q306 961 222 930 L222 1104 Q373 1175 486 1276 Q599 1377 646 1472 L763 1472 Z" fill="#000" stroke="#000" stroke-width="0.3" vector-effect="non-scaling-stroke"/>
<path transform="rotate(-45 942.4 2145.9) translate(926.26 2145.9) scale(0.01416 -0.01416)" d="M763 0 L583 0 L583 1147 Q518 1085 412 1023 Q306 961 222 930 L222 1104 Q373 1175 486 1276 Q599 1377 646 1472 L763 1472 Z" fill="#000" stroke="#000" stroke-width="0.3" vector-effect="non-scaling-stroke"/>
<path transform="translate(135.1 974.35) scale(0.95 1) translate(-16.29 0) scale(0.01431 -0.01431)" d="M763 0 L583 0 L583 1147 Q518 1085 412 1023 Q306 961 222 930 L222 1104 Q373 1175 486 1276 Q599 1377 646 1472 L763 1472 Z" fill="#000" stroke="#000" stroke-width="0.3" vector-effect="non-scaling-stroke"/>
<path transform="translate(135.1 748) scale(0.95 1) translate(-32.59 0) scale(0.01431 -0.01431)" d="M763 0 L583 0 L583 1147 Q518 1085 412 1023 Q306 961 222 930 L222 1104 Q373 1175 486 1276 Q599 1377 646 1472 L763 1472 Z" fill="#000" stroke="#000" stroke-width="0.3" vector-effect="non-scaling-stroke"/>
<path transform="translate(135.1 722.85) scale(0.95 1) translate(-32.59 0) scale(0.01431 -0.01431)" d="M763 0 L583 0 L583 1147 Q518 1085 412 1023 Q306 961 222 930 L222 1104 Q373 1175 486 1276 Q599 1377 646 1472 L763 1472 Z" fill="#000" stroke="#000" stroke-width="0.3" vector-effect="non-scaling-stroke"/>
<path transform="translate(135.1 722.85) scale(0.95 1) translate(-16.29 0) scale(0.01431 -0.01431)" d="M763 0 L583 0 L583 1147 Q518 1085 412 1023 Q306 961 222 930 L222 1104 Q373 1175 486 1276 Q599 1377 646 1472 L763 1472 Z" fill="#000" stroke="#000" stroke-width="0.3" vector-effect="non-scaling-stroke"/>
<path transform="translate(135.1 697.7) scale(0.95 1) translate(-32.59 0) scale(0.01431 -0.01431)" d="M763 0 L583 0 L583 1147 Q518 1085 412 1023 Q306 961 222 930 L222 1104 Q373 1175 486 1276 Q599 1377 646 1472 L763 1472 Z" fill="#000" stroke="#000" stroke-width="0.3" vector-effect="non-scaling-stroke"/>
<path transform="translate(135.1 672.55) scale(0.95 1) translate(-32.59 0) scale(0.01431 -0.01431)" d="M763 0 L583 0 L583 1147 Q518 1085 412 1023 Q306 961 222 930 L222 1104 Q373 1175 486 1276 Q599 1377 646 1472 L763 1472 Z" fill="#000" stroke="#000" stroke-width="0.3" vector-effect="non-scaling-stroke"/>
<path transform="translate(135.1 647.4) scale(0.95 1) translate(-32.59 0) scale(0.01431 -0.01431)" d="M763 0 L583 0 L583 1147 Q518 1085 412 1023 Q306 961 222 930 L222 1104 Q373 1175 486 1276 Q599 1377 646 1472 L763 1472 Z" fill="#000" stroke="#000" stroke-width="0.3" vector-effect="non-scaling-stroke"/>
<path transform="translate(135.1 622.25) scale(0.95 1) translate(-32.59 0) scale(0.01431 -0.01431)" d="M763 0 L583 0 L583 1147 Q518 1085 412 1023 Q306 961 222 930 L222 1104 Q373 1175 486 1276 Q599 1377 646 1472 L763 1472 Z" fill="#000" stroke="#000" stroke-width="0.3" vector-effect="non-scaling-stroke"/>
<path transform="translate(319.21 695.3) scale(0.01489 -0.01489)" d="M763 0 L583 0 L583 1147 Q518 1085 412 1023 Q306 961 222 930 L222 1104 Q373 1175 486 1276 Q599 1377 646 1472 L763 1472 Z" fill="#000" stroke="#000" stroke-width="0.3" vector-effect="non-scaling-stroke"/>
<path transform="translate(665 973.1) scale(0.95 1) translate(-16.29 0) scale(0.01431 -0.01431)" d="M763 0 L583 0 L583 1147 Q518 1085 412 1023 Q306 961 222 930 L222 1104 Q373 1175 486 1276 Q599 1377 646 1472 L763 1472 Z" fill="#000" stroke="#000" stroke-width="0.3" vector-effect="non-scaling-stroke"/>
<path transform="translate(665 746.3) scale(0.95 1) translate(-32.59 0) scale(0.01431 -0.01431)" d="M763 0 L583 0 L583 1147 Q518 1085 412 1023 Q306 961 222 930 L222 1104 Q373 1175 486 1276 Q599 1377 646 1472 L763 1472 Z" fill="#000" stroke="#000" stroke-width="0.3" vector-effect="non-scaling-stroke"/>
<path transform="translate(665 721.1) scale(0.95 1) translate(-32.59 0) scale(0.01431 -0.01431)" d="M763 0 L583 0 L583 1147 Q518 1085 412 1023 Q306 961 222 930 L222 1104 Q373 1175 486 1276 Q599 1377 646 1472 L763 1472 Z" fill="#000" stroke="#000" stroke-width="0.3" vector-effect="non-scaling-stroke"/>
<path transform="translate(665 721.1) scale(0.95 1) translate(-16.29 0) scale(0.01431 -0.01431)" d="M763 0 L583 0 L583 1147 Q518 1085 412 1023 Q306 961 222 930 L222 1104 Q373 1175 486 1276 Q599 1377 646 1472 L763 1472 Z" fill="#000" stroke="#000" stroke-width="0.3" vector-effect="non-scaling-stroke"/>
<path transform="translate(665 695.9) scale(0.95 1) translate(-32.59 0) scale(0.01431 -0.01431)" d="M763 0 L583 0 L583 1147 Q518 1085 412 1023 Q306 961 222 930 L222 1104 Q373 1175 486 1276 Q599 1377 646 1472 L763 1472 Z" fill="#000" stroke="#000" stroke-width="0.3" vector-effect="non-scaling-stroke"/>
<path transform="translate(665 670.7) scale(0.95 1) translate(-32.59 0) scale(0.01431 -0.01431)" d="M763 0 L583 0 L583 1147 Q518 1085 412 1023 Q306 961 222 930 L222 1104 Q373 1175 486 1276 Q599 1377 646 1472 L763 1472 Z" fill="#000" stroke="#000" stroke-width="0.3" vector-effect="non-scaling-stroke"/>
<path transform="translate(665 645.5) scale(0.95 1) translate(-32.59 0) scale(0.01431 -0.01431)" d="M763 0 L583 0 L583 1147 Q518 1085 412 1023 Q306 961 222 930 L222 1104 Q373 1175 486 1276 Q599 1377 646 1472 L763 1472 Z" fill="#000" stroke="#000" stroke-width="0.3" vector-effect="non-scaling-stroke"/>
<path transform="translate(665 620.3) scale(0.95 1) translate(-32.59 0) scale(0.01431 -0.01431)" d="M763 0 L583 0 L583 1147 Q518 1085 412 1023 Q306 961 222 930 L222 1104 Q373 1175 486 1276 Q599 1377 646 1472 L763 1472 Z" fill="#000" stroke="#000" stroke-width="0.3" vector-effect="non-scaling-stroke"/>
<path transform="translate(850.01 695.4) scale(0.01489 -0.01489)" d="M763 0 L583 0 L583 1147 Q518 1085 412 1023 Q306 961 222 930 L222 1104 Q373 1175 486 1276 Q599 1377 646 1472 L763 1472 Z" fill="#000" stroke="#000" stroke-width="0.3" vector-effect="non-scaling-stroke"/>
<path transform="translate(326.15 2296) scale(0.01821 -0.01821)" d="M763 0 L583 0 L583 1147 Q518 1085 412 1023 Q306 961 222 930 L222 1104 Q373 1175 486 1276 Q599 1377 646 1472 L763 1472 Z" fill="#000" stroke="#000" stroke-width="0.3" vector-effect="non-scaling-stroke"/>
</svg>
</body></html>
